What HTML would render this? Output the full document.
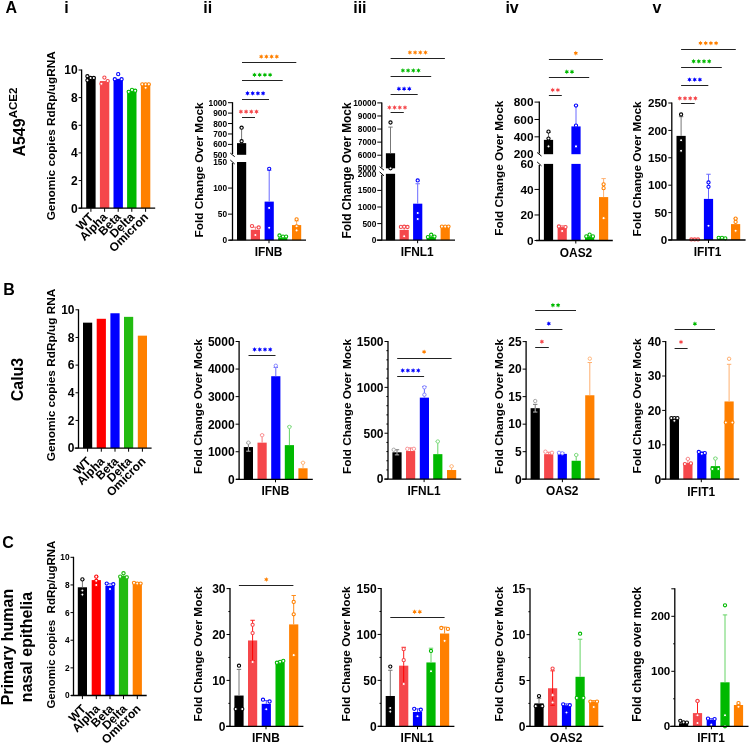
<!DOCTYPE html>
<html><head><meta charset="utf-8"><style>
html,body{margin:0;padding:0;background:#fff;overflow:hidden;}
svg{display:block;font-family:"Liberation Sans", sans-serif;will-change:transform;}
</style></head><body>
<svg width="750" height="744" viewBox="0 0 750 744">
<rect x="0" y="0" width="750" height="744" fill="#fff"/>
<rect x="86.2" y="76.91" width="9.4" height="131.29" fill="#000000"/>
<circle cx="87.4" cy="76.22" r="1.6" fill="#fff" stroke="#000000" stroke-width="1.1"/>
<circle cx="87.4" cy="80.36" r="1.6" fill="#fff" stroke="#000000" stroke-width="1.1"/>
<circle cx="90.6" cy="78.02" r="1.6" fill="#fff" stroke="#000000" stroke-width="1.1"/>
<circle cx="93.8" cy="78.02" r="1.6" fill="#fff" stroke="#000000" stroke-width="1.1"/>
<rect x="99.9" y="81.06" width="9.4" height="127.14" fill="#f5474b"/>
<circle cx="104.4" cy="77.6" r="1.6" fill="#fff" stroke="#f5474b" stroke-width="1.1"/>
<circle cx="101.4" cy="83.82" r="1.6" fill="#fff" stroke="#f5474b" stroke-width="1.1"/>
<circle cx="107.7" cy="81.06" r="1.6" fill="#fff" stroke="#f5474b" stroke-width="1.1"/>
<rect x="113.5" y="78.84" width="9.4" height="129.36" fill="#0000ff"/>
<circle cx="118.2" cy="74.15" r="1.6" fill="#fff" stroke="#0000ff" stroke-width="1.1"/>
<circle cx="114.8" cy="79.26" r="1.6" fill="#fff" stroke="#0000ff" stroke-width="1.1"/>
<circle cx="121.6" cy="79.26" r="1.6" fill="#fff" stroke="#0000ff" stroke-width="1.1"/>
<rect x="127.1" y="90.18" width="9.4" height="118.02" fill="#00b900"/>
<circle cx="128.7" cy="91.84" r="1.6" fill="#fff" stroke="#00b900" stroke-width="1.1"/>
<circle cx="132" cy="89.9" r="1.6" fill="#fff" stroke="#00b900" stroke-width="1.1"/>
<circle cx="135.2" cy="90.73" r="1.6" fill="#fff" stroke="#00b900" stroke-width="1.1"/>
<rect x="140.9" y="83.96" width="9.4" height="124.24" fill="#ff8000"/>
<circle cx="142.3" cy="84.37" r="1.6" fill="#fff" stroke="#ff8000" stroke-width="1.1"/>
<circle cx="145.6" cy="87.69" r="1.6" fill="#fff" stroke="#ff8000" stroke-width="1.1"/>
<circle cx="145.6" cy="84.37" r="1.6" fill="#fff" stroke="#ff8000" stroke-width="1.1"/>
<circle cx="148.8" cy="84.37" r="1.6" fill="#fff" stroke="#ff8000" stroke-width="1.1"/>
<line x1="81.6" y1="69.5" x2="81.6" y2="208.2" stroke="#000" stroke-width="1.3"/>
<line x1="78.6" y1="208.2" x2="155.2" y2="208.2" stroke="#000" stroke-width="1.3"/>
<line x1="78.6" y1="208.2" x2="81.6" y2="208.2" stroke="#000" stroke-width="1"/>
<text x="77.6" y="212.52" font-size="12" text-anchor="end" font-weight="bold" fill="#000">0</text>
<line x1="78.6" y1="180.56" x2="81.6" y2="180.56" stroke="#000" stroke-width="1"/>
<text x="77.6" y="184.88" font-size="12" text-anchor="end" font-weight="bold" fill="#000">2</text>
<line x1="78.6" y1="152.92" x2="81.6" y2="152.92" stroke="#000" stroke-width="1"/>
<text x="77.6" y="157.24" font-size="12" text-anchor="end" font-weight="bold" fill="#000">4</text>
<line x1="78.6" y1="125.28" x2="81.6" y2="125.28" stroke="#000" stroke-width="1"/>
<text x="77.6" y="129.6" font-size="12" text-anchor="end" font-weight="bold" fill="#000">6</text>
<line x1="78.6" y1="97.64" x2="81.6" y2="97.64" stroke="#000" stroke-width="1"/>
<text x="77.6" y="101.96" font-size="12" text-anchor="end" font-weight="bold" fill="#000">8</text>
<line x1="78.6" y1="70" x2="81.6" y2="70" stroke="#000" stroke-width="1"/>
<text x="77.6" y="74.32" font-size="12" text-anchor="end" font-weight="bold" fill="#000">10</text>
<line x1="90.9" y1="208.2" x2="90.9" y2="211.8" stroke="#000" stroke-width="1"/>
<line x1="104.6" y1="208.2" x2="104.6" y2="211.8" stroke="#000" stroke-width="1"/>
<line x1="118.2" y1="208.2" x2="118.2" y2="211.8" stroke="#000" stroke-width="1"/>
<line x1="131.8" y1="208.2" x2="131.8" y2="211.8" stroke="#000" stroke-width="1"/>
<line x1="145.6" y1="208.2" x2="145.6" y2="211.8" stroke="#000" stroke-width="1"/>
<text x="54.6" y="135.8" font-size="11.8" text-anchor="middle" font-weight="bold" fill="#000" transform="rotate(-90 54.6 135.8)">Genomic copies RdRp/ugRNA</text>
<text x="94.3" y="217.8" font-size="12" text-anchor="end" font-weight="bold" fill="#000" transform="rotate(-45 94.3 217.8)">WT</text>
<text x="108" y="217.8" font-size="12" text-anchor="end" font-weight="bold" fill="#000" transform="rotate(-45 108 217.8)">Alpha</text>
<text x="121.6" y="217.8" font-size="12" text-anchor="end" font-weight="bold" fill="#000" transform="rotate(-45 121.6 217.8)">Beta</text>
<text x="135.2" y="217.8" font-size="12" text-anchor="end" font-weight="bold" fill="#000" transform="rotate(-45 135.2 217.8)">Delta</text>
<text x="149" y="217.8" font-size="12" text-anchor="end" font-weight="bold" fill="#000" transform="rotate(-45 149 217.8)">Omicron</text>
<rect x="237" y="162" width="9.2" height="78.2" fill="#000000"/>
<rect x="237" y="143.13" width="9.2" height="11.67" fill="#000000"/>
<line x1="241.6" y1="143.13" x2="241.6" y2="127.71" stroke="#777777" stroke-width="1"/>
<line x1="239.4" y1="127.71" x2="243.8" y2="127.71" stroke="#777777" stroke-width="1"/>
<circle cx="241.6" cy="127.71" r="1.6" fill="#fff" stroke="#000000" stroke-width="1.1"/>
<circle cx="241.6" cy="141.25" r="1.6" fill="#fff" stroke="#000000" stroke-width="1.1"/>
<rect x="250.8" y="229.77" width="9.2" height="10.43" fill="#f5474b"/>
<line x1="255.4" y1="229.77" x2="255.4" y2="227.17" stroke="#f77a7d" stroke-width="1"/>
<line x1="253.2" y1="227.17" x2="257.6" y2="227.17" stroke="#f77a7d" stroke-width="1"/>
<circle cx="252" cy="226.12" r="1.6" fill="#fff" stroke="#f5474b" stroke-width="1.1"/>
<circle cx="258.7" cy="227.43" r="1.6" fill="#fff" stroke="#f5474b" stroke-width="1.1"/>
<circle cx="255.4" cy="234.99" r="1.6" fill="#fff" stroke="#f5474b" stroke-width="1.1"/>
<rect x="264.6" y="201.62" width="9.2" height="38.58" fill="#0000ff"/>
<line x1="269.2" y1="201.62" x2="269.2" y2="170.34" stroke="#6a6aff" stroke-width="1"/>
<line x1="267" y1="170.34" x2="271.4" y2="170.34" stroke="#6a6aff" stroke-width="1"/>
<circle cx="269.2" cy="168.78" r="1.6" fill="#fff" stroke="#0000ff" stroke-width="1.1"/>
<circle cx="269.2" cy="207.88" r="1.6" fill="#fff" stroke="#0000ff" stroke-width="1.1"/>
<circle cx="269.2" cy="227.69" r="1.6" fill="#fff" stroke="#0000ff" stroke-width="1.1"/>
<rect x="278.1" y="237.59" width="9.2" height="2.61" fill="#00b900"/>
<line x1="282.7" y1="237.59" x2="282.7" y2="236.03" stroke="#66d466" stroke-width="1"/>
<line x1="280.5" y1="236.03" x2="284.9" y2="236.03" stroke="#66d466" stroke-width="1"/>
<circle cx="279.5" cy="235.51" r="1.6" fill="#fff" stroke="#00b900" stroke-width="1.1"/>
<circle cx="283" cy="236.55" r="1.6" fill="#fff" stroke="#00b900" stroke-width="1.1"/>
<circle cx="286.1" cy="236.55" r="1.6" fill="#fff" stroke="#00b900" stroke-width="1.1"/>
<rect x="292" y="225.08" width="9.2" height="15.12" fill="#ff8000"/>
<line x1="296.6" y1="225.08" x2="296.6" y2="220.91" stroke="#ffb070" stroke-width="1"/>
<line x1="294.4" y1="220.91" x2="298.8" y2="220.91" stroke="#ffb070" stroke-width="1"/>
<circle cx="296.6" cy="219.35" r="1.6" fill="#fff" stroke="#ff8000" stroke-width="1.1"/>
<circle cx="296.6" cy="226.28" r="1.6" fill="#fff" stroke="#ff8000" stroke-width="1.1"/>
<circle cx="296.6" cy="230.4" r="1.6" fill="#fff" stroke="#ff8000" stroke-width="1.1"/>
<line x1="232.5" y1="163" x2="232.5" y2="240.2" stroke="#000" stroke-width="1.3"/>
<line x1="232.5" y1="102.2" x2="232.5" y2="154" stroke="#000" stroke-width="1.3"/>
<line x1="230.3" y1="153.1" x2="234.7" y2="156.7" stroke="#000" stroke-width="1"/>
<line x1="230.3" y1="160" x2="234.7" y2="164" stroke="#000" stroke-width="1"/>
<line x1="229.3" y1="240.2" x2="306" y2="240.2" stroke="#000" stroke-width="1.3"/>
<line x1="228" y1="240.2" x2="232.5" y2="240.2" stroke="#000" stroke-width="1"/>
<text x="227" y="243.19" font-size="8.3" text-anchor="end" font-weight="bold" fill="#000">0</text>
<line x1="228" y1="214.13" x2="232.5" y2="214.13" stroke="#000" stroke-width="1"/>
<text x="227" y="217.12" font-size="8.3" text-anchor="end" font-weight="bold" fill="#000">50</text>
<line x1="228" y1="188.07" x2="232.5" y2="188.07" stroke="#000" stroke-width="1"/>
<text x="227" y="191.05" font-size="8.3" text-anchor="end" font-weight="bold" fill="#000">100</text>
<text x="227" y="164.99" font-size="8.3" text-anchor="end" font-weight="bold" fill="#000">150</text>
<text x="227" y="157.79" font-size="8.3" text-anchor="end" font-weight="bold" fill="#000">500</text>
<line x1="228" y1="144.38" x2="232.5" y2="144.38" stroke="#000" stroke-width="1"/>
<text x="227" y="147.37" font-size="8.3" text-anchor="end" font-weight="bold" fill="#000">600</text>
<line x1="228" y1="133.96" x2="232.5" y2="133.96" stroke="#000" stroke-width="1"/>
<text x="227" y="136.95" font-size="8.3" text-anchor="end" font-weight="bold" fill="#000">700</text>
<line x1="228" y1="123.54" x2="232.5" y2="123.54" stroke="#000" stroke-width="1"/>
<text x="227" y="126.53" font-size="8.3" text-anchor="end" font-weight="bold" fill="#000">800</text>
<line x1="228" y1="113.12" x2="232.5" y2="113.12" stroke="#000" stroke-width="1"/>
<text x="227" y="116.11" font-size="8.3" text-anchor="end" font-weight="bold" fill="#000">900</text>
<line x1="228" y1="102.7" x2="232.5" y2="102.7" stroke="#000" stroke-width="1"/>
<text x="227" y="105.69" font-size="8.3" text-anchor="end" font-weight="bold" fill="#000">1000</text>
<line x1="269" y1="240.2" x2="269" y2="243.2" stroke="#000" stroke-width="1"/>
<line x1="242" y1="117.5" x2="255" y2="117.5" stroke="#222" stroke-width="1"/>
<polygon points="240.9,109.25 241.52,110.62 243.02,110.48 242.15,111.7 243.02,112.92 241.52,112.78 240.9,114.15 240.27,112.78 238.78,112.92 239.65,111.7 238.78,110.48 240.27,110.62" fill="#f5474b"/>
<polygon points="246.1,109.25 246.72,110.62 248.22,110.48 247.35,111.7 248.22,112.92 246.72,112.78 246.1,114.15 245.47,112.78 243.98,112.92 244.85,111.7 243.98,110.48 245.47,110.62" fill="#f5474b"/>
<polygon points="251.3,109.25 251.92,110.62 253.42,110.48 252.55,111.7 253.42,112.92 251.92,112.78 251.3,114.15 250.67,112.78 249.18,112.92 250.05,111.7 249.18,110.48 250.67,110.62" fill="#f5474b"/>
<polygon points="256.5,109.25 257.12,110.62 258.62,110.48 257.75,111.7 258.62,112.92 257.12,112.78 256.5,114.15 255.88,112.78 254.38,112.92 255.25,111.7 254.38,110.48 255.88,110.62" fill="#f5474b"/>
<line x1="242" y1="99.5" x2="269" y2="99.5" stroke="#222" stroke-width="1"/>
<polygon points="247.5,90.85 248.12,92.22 249.62,92.08 248.75,93.3 249.62,94.52 248.12,94.38 247.5,95.75 246.88,94.38 245.38,94.52 246.25,93.3 245.38,92.08 246.88,92.22" fill="#0000ff"/>
<polygon points="252.7,90.85 253.33,92.22 254.82,92.08 253.95,93.3 254.82,94.52 253.33,94.38 252.7,95.75 252.08,94.38 250.58,94.52 251.45,93.3 250.58,92.08 252.08,92.22" fill="#0000ff"/>
<polygon points="257.9,90.85 258.53,92.22 260.02,92.08 259.15,93.3 260.02,94.52 258.53,94.38 257.9,95.75 257.28,94.38 255.78,94.52 256.65,93.3 255.78,92.08 257.28,92.22" fill="#0000ff"/>
<polygon points="263.1,90.85 263.73,92.22 265.22,92.08 264.35,93.3 265.22,94.52 263.73,94.38 263.1,95.75 262.48,94.38 260.98,94.52 261.85,93.3 260.98,92.08 262.48,92.22" fill="#0000ff"/>
<line x1="242" y1="80.5" x2="282.7" y2="80.5" stroke="#222" stroke-width="1"/>
<polygon points="254.5,72.45 255.12,73.82 256.62,73.68 255.75,74.9 256.62,76.12 255.12,75.98 254.5,77.35 253.88,75.98 252.38,76.12 253.25,74.9 252.38,73.68 253.88,73.82" fill="#00b900"/>
<polygon points="259.7,72.45 260.32,73.82 261.82,73.68 260.95,74.9 261.82,76.12 260.32,75.98 259.7,77.35 259.07,75.98 257.58,76.12 258.45,74.9 257.58,73.68 259.07,73.82" fill="#00b900"/>
<polygon points="264.9,72.45 265.53,73.82 267.02,73.68 266.15,74.9 267.02,76.12 265.53,75.98 264.9,77.35 264.28,75.98 262.78,76.12 263.65,74.9 262.78,73.68 264.28,73.82" fill="#00b900"/>
<polygon points="270.1,72.45 270.73,73.82 272.22,73.68 271.35,74.9 272.22,76.12 270.73,75.98 270.1,77.35 269.48,75.98 267.98,76.12 268.85,74.9 267.98,73.68 269.48,73.82" fill="#00b900"/>
<line x1="242" y1="62.5" x2="296.3" y2="62.5" stroke="#222" stroke-width="1"/>
<polygon points="261.2,54.15 261.82,55.52 263.32,55.38 262.45,56.6 263.32,57.83 261.82,57.68 261.2,59.05 260.57,57.68 259.08,57.83 259.95,56.6 259.08,55.38 260.57,55.52" fill="#ff8000"/>
<polygon points="266.4,54.15 267.02,55.52 268.52,55.38 267.65,56.6 268.52,57.83 267.02,57.68 266.4,59.05 265.77,57.68 264.28,57.83 265.15,56.6 264.28,55.38 265.77,55.52" fill="#ff8000"/>
<polygon points="271.6,54.15 272.23,55.52 273.72,55.38 272.85,56.6 273.72,57.83 272.23,57.68 271.6,59.05 270.98,57.68 269.48,57.83 270.35,56.6 269.48,55.38 270.98,55.52" fill="#ff8000"/>
<polygon points="276.8,54.15 277.43,55.52 278.92,55.38 278.05,56.6 278.92,57.83 277.43,57.68 276.8,59.05 276.18,57.68 274.68,57.83 275.55,56.6 274.68,55.38 276.18,55.52" fill="#ff8000"/>
<text x="202.7" y="170" font-size="11.8" text-anchor="middle" font-weight="bold" fill="#000" transform="rotate(-90 202.7 170)">Fold Change Over Mock</text>
<text x="268.5" y="255.9" font-size="11.9" text-anchor="middle" font-weight="bold" fill="#000">IFNB</text>
<rect x="385.9" y="173.8" width="9.2" height="66.4" fill="#000000"/>
<rect x="385.9" y="153.26" width="9.2" height="15.04" fill="#000000"/>
<line x1="390.5" y1="153.26" x2="390.5" y2="127.1" stroke="#777777" stroke-width="1"/>
<line x1="388.3" y1="127.1" x2="392.7" y2="127.1" stroke="#777777" stroke-width="1"/>
<circle cx="390.5" cy="122.52" r="1.6" fill="#fff" stroke="#000000" stroke-width="1.1"/>
<circle cx="390.5" cy="168.3" r="1.6" fill="#fff" stroke="#000000" stroke-width="1.1"/>
<rect x="399.6" y="229.91" width="9.2" height="10.29" fill="#f5474b"/>
<line x1="404.2" y1="229.91" x2="404.2" y2="226.26" stroke="#f77a7d" stroke-width="1"/>
<line x1="402" y1="226.26" x2="406.4" y2="226.26" stroke="#f77a7d" stroke-width="1"/>
<circle cx="400.9" cy="226.92" r="1.6" fill="#fff" stroke="#f5474b" stroke-width="1.1"/>
<circle cx="404.2" cy="226.75" r="1.6" fill="#fff" stroke="#f5474b" stroke-width="1.1"/>
<circle cx="407.5" cy="226.99" r="1.6" fill="#fff" stroke="#f5474b" stroke-width="1.1"/>
<circle cx="404.2" cy="236.22" r="1.6" fill="#fff" stroke="#f5474b" stroke-width="1.1"/>
<rect x="413.1" y="203.68" width="9.2" height="36.52" fill="#0000ff"/>
<line x1="417.7" y1="203.68" x2="417.7" y2="183.76" stroke="#6a6aff" stroke-width="1"/>
<line x1="415.5" y1="183.76" x2="419.9" y2="183.76" stroke="#6a6aff" stroke-width="1"/>
<circle cx="417.7" cy="180.44" r="1.6" fill="#fff" stroke="#0000ff" stroke-width="1.1"/>
<circle cx="417.7" cy="212.98" r="1.6" fill="#fff" stroke="#0000ff" stroke-width="1.1"/>
<circle cx="417.7" cy="218.95" r="1.6" fill="#fff" stroke="#0000ff" stroke-width="1.1"/>
<rect x="426.6" y="236.88" width="9.2" height="3.32" fill="#00b900"/>
<line x1="431.2" y1="236.88" x2="431.2" y2="234.89" stroke="#66d466" stroke-width="1"/>
<line x1="429" y1="234.89" x2="433.4" y2="234.89" stroke="#66d466" stroke-width="1"/>
<circle cx="427.9" cy="237.05" r="1.6" fill="#fff" stroke="#00b900" stroke-width="1.1"/>
<circle cx="431.2" cy="234.72" r="1.6" fill="#fff" stroke="#00b900" stroke-width="1.1"/>
<circle cx="434.5" cy="236.55" r="1.6" fill="#fff" stroke="#00b900" stroke-width="1.1"/>
<rect x="440.6" y="226.59" width="9.2" height="13.61" fill="#ff8000"/>
<line x1="445.2" y1="226.59" x2="445.2" y2="225.92" stroke="#ffb070" stroke-width="1"/>
<line x1="443" y1="225.92" x2="447.4" y2="225.92" stroke="#ffb070" stroke-width="1"/>
<circle cx="441.9" cy="226.59" r="1.6" fill="#fff" stroke="#ff8000" stroke-width="1.1"/>
<circle cx="445.2" cy="226.59" r="1.6" fill="#fff" stroke="#ff8000" stroke-width="1.1"/>
<circle cx="448.5" cy="226.59" r="1.6" fill="#fff" stroke="#ff8000" stroke-width="1.1"/>
<line x1="381.8" y1="174.8" x2="381.8" y2="240.2" stroke="#000" stroke-width="1.3"/>
<line x1="381.8" y1="102.4" x2="381.8" y2="167.5" stroke="#000" stroke-width="1.3"/>
<line x1="379.6" y1="166.6" x2="384" y2="170.2" stroke="#000" stroke-width="1"/>
<line x1="379.6" y1="171.8" x2="384" y2="175.8" stroke="#000" stroke-width="1"/>
<line x1="376.8" y1="240.2" x2="455" y2="240.2" stroke="#000" stroke-width="1.3"/>
<line x1="377.3" y1="240.2" x2="381.8" y2="240.2" stroke="#000" stroke-width="1"/>
<text x="376.3" y="243.19" font-size="8.3" text-anchor="end" font-weight="bold" fill="#000">0</text>
<line x1="377.3" y1="223.6" x2="381.8" y2="223.6" stroke="#000" stroke-width="1"/>
<text x="376.3" y="226.59" font-size="8.3" text-anchor="end" font-weight="bold" fill="#000">500</text>
<line x1="377.3" y1="207" x2="381.8" y2="207" stroke="#000" stroke-width="1"/>
<text x="376.3" y="209.99" font-size="8.3" text-anchor="end" font-weight="bold" fill="#000">1000</text>
<line x1="377.3" y1="190.4" x2="381.8" y2="190.4" stroke="#000" stroke-width="1"/>
<text x="376.3" y="193.39" font-size="8.3" text-anchor="end" font-weight="bold" fill="#000">1500</text>
<text x="376.3" y="176.79" font-size="8.3" text-anchor="end" font-weight="bold" fill="#000">2000</text>
<text x="376.3" y="171.29" font-size="8.3" text-anchor="end" font-weight="bold" fill="#000">5000</text>
<line x1="377.3" y1="155.22" x2="381.8" y2="155.22" stroke="#000" stroke-width="1"/>
<text x="376.3" y="158.21" font-size="8.3" text-anchor="end" font-weight="bold" fill="#000">6000</text>
<line x1="377.3" y1="142.14" x2="381.8" y2="142.14" stroke="#000" stroke-width="1"/>
<text x="376.3" y="145.13" font-size="8.3" text-anchor="end" font-weight="bold" fill="#000">7000</text>
<line x1="377.3" y1="129.06" x2="381.8" y2="129.06" stroke="#000" stroke-width="1"/>
<text x="376.3" y="132.05" font-size="8.3" text-anchor="end" font-weight="bold" fill="#000">8000</text>
<line x1="377.3" y1="115.98" x2="381.8" y2="115.98" stroke="#000" stroke-width="1"/>
<text x="376.3" y="118.97" font-size="8.3" text-anchor="end" font-weight="bold" fill="#000">9000</text>
<line x1="377.3" y1="102.9" x2="381.8" y2="102.9" stroke="#000" stroke-width="1"/>
<text x="376.3" y="105.89" font-size="8.3" text-anchor="end" font-weight="bold" fill="#000">10000</text>
<line x1="417.6" y1="240.2" x2="417.6" y2="243.2" stroke="#000" stroke-width="1"/>
<line x1="390.6" y1="112.5" x2="403.8" y2="112.5" stroke="#222" stroke-width="1"/>
<polygon points="389.4,105.05 390.02,106.42 391.52,106.28 390.65,107.5 391.52,108.72 390.02,108.58 389.4,109.95 388.77,108.58 387.28,108.72 388.15,107.5 387.28,106.28 388.77,106.42" fill="#f5474b"/>
<polygon points="394.6,105.05 395.22,106.42 396.72,106.28 395.85,107.5 396.72,108.72 395.22,108.58 394.6,109.95 393.97,108.58 392.48,108.72 393.35,107.5 392.48,106.28 393.97,106.42" fill="#f5474b"/>
<polygon points="399.8,105.05 400.43,106.42 401.92,106.28 401.05,107.5 401.92,108.72 400.43,108.58 399.8,109.95 399.18,108.58 397.68,108.72 398.55,107.5 397.68,106.28 399.18,106.42" fill="#f5474b"/>
<polygon points="405,105.05 405.62,106.42 407.12,106.28 406.25,107.5 407.12,108.72 405.62,108.58 405,109.95 404.38,108.58 402.88,108.72 403.75,107.5 402.88,106.28 404.38,106.42" fill="#f5474b"/>
<line x1="390.6" y1="94.5" x2="417.7" y2="94.5" stroke="#222" stroke-width="1"/>
<polygon points="398.9,86.35 399.53,87.72 401.02,87.58 400.15,88.8 401.02,90.02 399.53,89.88 398.9,91.25 398.28,89.88 396.78,90.02 397.65,88.8 396.78,87.58 398.28,87.72" fill="#0000ff"/>
<polygon points="404.1,86.35 404.73,87.72 406.22,87.58 405.35,88.8 406.22,90.02 404.73,89.88 404.1,91.25 403.48,89.88 401.98,90.02 402.85,88.8 401.98,87.58 403.48,87.72" fill="#0000ff"/>
<polygon points="409.3,86.35 409.93,87.72 411.42,87.58 410.55,88.8 411.42,90.02 409.93,89.88 409.3,91.25 408.68,89.88 407.18,90.02 408.05,88.8 407.18,87.58 408.68,87.72" fill="#0000ff"/>
<line x1="390.6" y1="76.5" x2="431.2" y2="76.5" stroke="#222" stroke-width="1"/>
<polygon points="402.9,68.05 403.52,69.42 405.02,69.28 404.15,70.5 405.02,71.72 403.52,71.58 402.9,72.95 402.27,71.58 400.78,71.72 401.65,70.5 400.78,69.28 402.27,69.42" fill="#00b900"/>
<polygon points="408.1,68.05 408.72,69.42 410.22,69.28 409.35,70.5 410.22,71.72 408.72,71.58 408.1,72.95 407.47,71.58 405.98,71.72 406.85,70.5 405.98,69.28 407.47,69.42" fill="#00b900"/>
<polygon points="413.3,68.05 413.93,69.42 415.42,69.28 414.55,70.5 415.42,71.72 413.93,71.58 413.3,72.95 412.68,71.58 411.18,71.72 412.05,70.5 411.18,69.28 412.68,69.42" fill="#00b900"/>
<polygon points="418.5,68.05 419.12,69.42 420.62,69.28 419.75,70.5 420.62,71.72 419.12,71.58 418.5,72.95 417.88,71.58 416.38,71.72 417.25,70.5 416.38,69.28 417.88,69.42" fill="#00b900"/>
<line x1="390.6" y1="58.5" x2="444.9" y2="58.5" stroke="#222" stroke-width="1"/>
<polygon points="409.9,50.05 410.52,51.42 412.02,51.27 411.15,52.5 412.02,53.73 410.52,53.58 409.9,54.95 409.27,53.58 407.78,53.73 408.65,52.5 407.78,51.27 409.27,51.42" fill="#ff8000"/>
<polygon points="415.1,50.05 415.72,51.42 417.22,51.27 416.35,52.5 417.22,53.73 415.72,53.58 415.1,54.95 414.47,53.58 412.98,53.73 413.85,52.5 412.98,51.27 414.47,51.42" fill="#ff8000"/>
<polygon points="420.3,50.05 420.93,51.42 422.42,51.27 421.55,52.5 422.42,53.73 420.93,53.58 420.3,54.95 419.68,53.58 418.18,53.73 419.05,52.5 418.18,51.27 419.68,51.42" fill="#ff8000"/>
<polygon points="425.5,50.05 426.12,51.42 427.62,51.27 426.75,52.5 427.62,53.73 426.12,53.58 425.5,54.95 424.88,53.58 423.38,53.73 424.25,52.5 423.38,51.27 424.88,51.42" fill="#ff8000"/>
<text x="351" y="170.5" font-size="11.9" text-anchor="middle" font-weight="bold" fill="#000" transform="rotate(-90 351 170.5)">Fold Change Over Mock</text>
<text x="417.2" y="256.2" font-size="11.9" text-anchor="middle" font-weight="bold" fill="#000">IFNL1</text>
<rect x="543.9" y="163.9" width="9.2" height="76.6" fill="#000000"/>
<rect x="543.9" y="139.87" width="9.2" height="14.33" fill="#000000"/>
<line x1="548.5" y1="139.87" x2="548.5" y2="132.49" stroke="#777777" stroke-width="1"/>
<line x1="546.3" y1="132.49" x2="550.7" y2="132.49" stroke="#777777" stroke-width="1"/>
<circle cx="548.5" cy="131.62" r="1.6" fill="#fff" stroke="#000000" stroke-width="1.1"/>
<circle cx="548.5" cy="138.57" r="1.6" fill="#fff" stroke="#000000" stroke-width="1.1"/>
<circle cx="548.5" cy="146.38" r="1.6" fill="#fff" stroke="#000000" stroke-width="1.1"/>
<rect x="557.6" y="227.09" width="9.2" height="13.41" fill="#f5474b"/>
<line x1="562.2" y1="227.09" x2="562.2" y2="225.82" stroke="#f77a7d" stroke-width="1"/>
<line x1="560" y1="225.82" x2="564.4" y2="225.82" stroke="#f77a7d" stroke-width="1"/>
<circle cx="558.9" cy="226.46" r="1.6" fill="#fff" stroke="#f5474b" stroke-width="1.1"/>
<circle cx="565.5" cy="227.09" r="1.6" fill="#fff" stroke="#f5474b" stroke-width="1.1"/>
<circle cx="562.2" cy="230.93" r="1.6" fill="#fff" stroke="#f5474b" stroke-width="1.1"/>
<rect x="571.4" y="163.9" width="9.2" height="76.6" fill="#0000ff"/>
<rect x="571.4" y="126.41" width="9.2" height="27.79" fill="#0000ff"/>
<line x1="576" y1="126.41" x2="576" y2="105.57" stroke="#6a6aff" stroke-width="1"/>
<line x1="573.8" y1="105.57" x2="578.2" y2="105.57" stroke="#6a6aff" stroke-width="1"/>
<circle cx="576" cy="105.57" r="1.6" fill="#fff" stroke="#0000ff" stroke-width="1.1"/>
<circle cx="576" cy="125.54" r="1.6" fill="#fff" stroke="#0000ff" stroke-width="1.1"/>
<circle cx="576" cy="146.38" r="1.6" fill="#fff" stroke="#0000ff" stroke-width="1.1"/>
<rect x="585" y="236.67" width="9.2" height="3.83" fill="#00b900"/>
<line x1="589.6" y1="236.67" x2="589.6" y2="235.39" stroke="#66d466" stroke-width="1"/>
<line x1="587.4" y1="235.39" x2="591.8" y2="235.39" stroke="#66d466" stroke-width="1"/>
<circle cx="586.3" cy="236.41" r="1.6" fill="#fff" stroke="#00b900" stroke-width="1.1"/>
<circle cx="589.6" cy="234.63" r="1.6" fill="#fff" stroke="#00b900" stroke-width="1.1"/>
<circle cx="592.9" cy="236.41" r="1.6" fill="#fff" stroke="#00b900" stroke-width="1.1"/>
<rect x="599" y="197.09" width="9.2" height="43.41" fill="#ff8000"/>
<line x1="603.6" y1="197.09" x2="603.6" y2="178.58" stroke="#ffb070" stroke-width="1"/>
<line x1="601.4" y1="178.58" x2="605.8" y2="178.58" stroke="#ffb070" stroke-width="1"/>
<circle cx="603.6" cy="184.33" r="1.6" fill="#fff" stroke="#ff8000" stroke-width="1.1"/>
<circle cx="603.6" cy="188.16" r="1.6" fill="#fff" stroke="#ff8000" stroke-width="1.1"/>
<circle cx="603.6" cy="218.16" r="1.6" fill="#fff" stroke="#ff8000" stroke-width="1.1"/>
<line x1="539.3" y1="164.9" x2="539.3" y2="240.5" stroke="#000" stroke-width="1.3"/>
<line x1="539.3" y1="101.6" x2="539.3" y2="153.4" stroke="#000" stroke-width="1.3"/>
<line x1="537.1" y1="152.5" x2="541.5" y2="156.1" stroke="#000" stroke-width="1"/>
<line x1="537.1" y1="161.9" x2="541.5" y2="165.9" stroke="#000" stroke-width="1"/>
<line x1="536" y1="240.5" x2="612.8" y2="240.5" stroke="#000" stroke-width="1.3"/>
<line x1="534.5" y1="240.5" x2="539.3" y2="240.5" stroke="#000" stroke-width="1"/>
<text x="533.5" y="244.75" font-size="11.8" text-anchor="end" font-weight="bold" fill="#000">0</text>
<line x1="534.5" y1="214.97" x2="539.3" y2="214.97" stroke="#000" stroke-width="1"/>
<text x="533.5" y="219.21" font-size="11.8" text-anchor="end" font-weight="bold" fill="#000">20</text>
<line x1="534.5" y1="189.43" x2="539.3" y2="189.43" stroke="#000" stroke-width="1"/>
<text x="533.5" y="193.68" font-size="11.8" text-anchor="end" font-weight="bold" fill="#000">40</text>
<text x="533.5" y="168.15" font-size="11.8" text-anchor="end" font-weight="bold" fill="#000">60</text>
<text x="533.5" y="158.45" font-size="11.8" text-anchor="end" font-weight="bold" fill="#000">200</text>
<line x1="534.5" y1="136.83" x2="539.3" y2="136.83" stroke="#000" stroke-width="1"/>
<text x="533.5" y="141.08" font-size="11.8" text-anchor="end" font-weight="bold" fill="#000">400</text>
<line x1="534.5" y1="119.47" x2="539.3" y2="119.47" stroke="#000" stroke-width="1"/>
<text x="533.5" y="123.71" font-size="11.8" text-anchor="end" font-weight="bold" fill="#000">600</text>
<line x1="534.5" y1="102.1" x2="539.3" y2="102.1" stroke="#000" stroke-width="1"/>
<text x="533.5" y="106.35" font-size="11.8" text-anchor="end" font-weight="bold" fill="#000">800</text>
<line x1="575.8" y1="240.5" x2="575.8" y2="243.5" stroke="#000" stroke-width="1"/>
<line x1="548.9" y1="95.5" x2="561.8" y2="95.5" stroke="#222" stroke-width="1"/>
<polygon points="552.7,87.55 553.32,88.92 554.82,88.78 553.95,90 554.82,91.22 553.32,91.08 552.7,92.45 552.07,91.08 550.58,91.22 551.45,90 550.58,88.78 552.07,88.92" fill="#f5474b"/>
<polygon points="557.9,87.55 558.52,88.92 560.02,88.78 559.15,90 560.02,91.22 558.52,91.08 557.9,92.45 557.27,91.08 555.78,91.22 556.65,90 555.78,88.78 557.27,88.92" fill="#f5474b"/>
<line x1="548.9" y1="77.5" x2="589.2" y2="77.5" stroke="#222" stroke-width="1"/>
<polygon points="566.8,69.35 567.42,70.72 568.92,70.58 568.05,71.8 568.92,73.02 567.42,72.88 566.8,74.25 566.17,72.88 564.68,73.02 565.55,71.8 564.68,70.58 566.17,70.72" fill="#00b900"/>
<polygon points="572,69.35 572.62,70.72 574.12,70.58 573.25,71.8 574.12,73.02 572.62,72.88 572,74.25 571.38,72.88 569.88,73.02 570.75,71.8 569.88,70.58 571.38,70.72" fill="#00b900"/>
<line x1="548.9" y1="59.5" x2="602.9" y2="59.5" stroke="#222" stroke-width="1"/>
<polygon points="575.8,50.75 576.42,52.12 577.92,51.98 577.05,53.2 577.92,54.43 576.42,54.28 575.8,55.65 575.17,54.28 573.68,54.43 574.55,53.2 573.68,51.98 575.17,52.12" fill="#ff8000"/>
<text x="503.2" y="168.2" font-size="11.8" text-anchor="middle" font-weight="bold" fill="#000" transform="rotate(-90 503.2 168.2)">Fold Change Over Mock</text>
<text x="576" y="256.5" font-size="11.9" text-anchor="middle" font-weight="bold" fill="#000">OAS2</text>
<rect x="676.5" y="135.88" width="9.2" height="104.12" fill="#000000"/>
<line x1="681.1" y1="135.88" x2="681.1" y2="116.7" stroke="#777777" stroke-width="1"/>
<line x1="678.9" y1="116.7" x2="683.3" y2="116.7" stroke="#777777" stroke-width="1"/>
<circle cx="681.1" cy="114.51" r="1.6" fill="#fff" stroke="#000000" stroke-width="1.1"/>
<circle cx="681.1" cy="140.26" r="1.6" fill="#fff" stroke="#000000" stroke-width="1.1"/>
<circle cx="681.1" cy="150.68" r="1.6" fill="#fff" stroke="#000000" stroke-width="1.1"/>
<rect x="690.1" y="239.45" width="9.2" height="0.55" fill="#f5474b"/>
<circle cx="691.4" cy="239.45" r="1.6" fill="#fff" stroke="#f5474b" stroke-width="1.1"/>
<circle cx="694.7" cy="239.45" r="1.6" fill="#fff" stroke="#f5474b" stroke-width="1.1"/>
<circle cx="698" cy="239.45" r="1.6" fill="#fff" stroke="#f5474b" stroke-width="1.1"/>
<rect x="703.9" y="198.9" width="9.2" height="41.1" fill="#0000ff"/>
<line x1="708.5" y1="198.9" x2="708.5" y2="174.24" stroke="#6a6aff" stroke-width="1"/>
<line x1="706.3" y1="174.24" x2="710.7" y2="174.24" stroke="#6a6aff" stroke-width="1"/>
<circle cx="708.5" cy="182.46" r="1.6" fill="#fff" stroke="#0000ff" stroke-width="1.1"/>
<circle cx="708.5" cy="186.84" r="1.6" fill="#fff" stroke="#0000ff" stroke-width="1.1"/>
<circle cx="708.5" cy="225.75" r="1.6" fill="#fff" stroke="#0000ff" stroke-width="1.1"/>
<rect x="717.4" y="238.63" width="9.2" height="1.37" fill="#00b900"/>
<line x1="722" y1="238.63" x2="722" y2="237.81" stroke="#66d466" stroke-width="1"/>
<line x1="719.8" y1="237.81" x2="724.2" y2="237.81" stroke="#66d466" stroke-width="1"/>
<circle cx="718.7" cy="237.81" r="1.6" fill="#fff" stroke="#00b900" stroke-width="1.1"/>
<circle cx="722" cy="237.81" r="1.6" fill="#fff" stroke="#00b900" stroke-width="1.1"/>
<circle cx="725.3" cy="238.36" r="1.6" fill="#fff" stroke="#00b900" stroke-width="1.1"/>
<rect x="731" y="224.11" width="9.2" height="15.89" fill="#ff8000"/>
<line x1="735.6" y1="224.11" x2="735.6" y2="218.63" stroke="#ffb070" stroke-width="1"/>
<line x1="733.4" y1="218.63" x2="737.8" y2="218.63" stroke="#ffb070" stroke-width="1"/>
<circle cx="735.6" cy="218.63" r="1.6" fill="#fff" stroke="#ff8000" stroke-width="1.1"/>
<circle cx="735.6" cy="221.92" r="1.6" fill="#fff" stroke="#ff8000" stroke-width="1.1"/>
<circle cx="735.6" cy="230.68" r="1.6" fill="#fff" stroke="#ff8000" stroke-width="1.1"/>
<line x1="671.8" y1="102.5" x2="671.8" y2="240" stroke="#000" stroke-width="1.3"/>
<line x1="668.2" y1="240" x2="745.6" y2="240" stroke="#000" stroke-width="1.3"/>
<line x1="668.3" y1="240" x2="671.8" y2="240" stroke="#000" stroke-width="1"/>
<text x="667.3" y="244.18" font-size="11.6" text-anchor="end" font-weight="bold" fill="#000">0</text>
<line x1="668.3" y1="212.6" x2="671.8" y2="212.6" stroke="#000" stroke-width="1"/>
<text x="667.3" y="216.78" font-size="11.6" text-anchor="end" font-weight="bold" fill="#000">50</text>
<line x1="668.3" y1="185.2" x2="671.8" y2="185.2" stroke="#000" stroke-width="1"/>
<text x="667.3" y="189.38" font-size="11.6" text-anchor="end" font-weight="bold" fill="#000">100</text>
<line x1="668.3" y1="157.8" x2="671.8" y2="157.8" stroke="#000" stroke-width="1"/>
<text x="667.3" y="161.98" font-size="11.6" text-anchor="end" font-weight="bold" fill="#000">150</text>
<line x1="668.3" y1="130.4" x2="671.8" y2="130.4" stroke="#000" stroke-width="1"/>
<text x="667.3" y="134.58" font-size="11.6" text-anchor="end" font-weight="bold" fill="#000">200</text>
<line x1="668.3" y1="103" x2="671.8" y2="103" stroke="#000" stroke-width="1"/>
<text x="667.3" y="107.18" font-size="11.6" text-anchor="end" font-weight="bold" fill="#000">250</text>
<line x1="708.5" y1="240" x2="708.5" y2="243" stroke="#000" stroke-width="1"/>
<line x1="681.1" y1="103.5" x2="694.7" y2="103.5" stroke="#222" stroke-width="1"/>
<polygon points="679.8,95.85 680.43,97.22 681.92,97.08 681.05,98.3 681.92,99.52 680.43,99.38 679.8,100.75 679.18,99.38 677.68,99.52 678.55,98.3 677.68,97.08 679.18,97.22" fill="#f5474b"/>
<polygon points="685,95.85 685.62,97.22 687.12,97.08 686.25,98.3 687.12,99.52 685.62,99.38 685,100.75 684.38,99.38 682.88,99.52 683.75,98.3 682.88,97.08 684.38,97.22" fill="#f5474b"/>
<polygon points="690.2,95.85 690.83,97.22 692.32,97.08 691.45,98.3 692.32,99.52 690.83,99.38 690.2,100.75 689.58,99.38 688.08,99.52 688.95,98.3 688.08,97.08 689.58,97.22" fill="#f5474b"/>
<polygon points="695.4,95.85 696.02,97.22 697.52,97.08 696.65,98.3 697.52,99.52 696.02,99.38 695.4,100.75 694.77,99.38 693.28,99.52 694.15,98.3 693.28,97.08 694.77,97.22" fill="#f5474b"/>
<line x1="681.1" y1="85.5" x2="708.3" y2="85.5" stroke="#222" stroke-width="1"/>
<polygon points="689.5,77.15 690.12,78.52 691.62,78.38 690.75,79.6 691.62,80.82 690.12,80.68 689.5,82.05 688.88,80.68 687.38,80.82 688.25,79.6 687.38,78.38 688.88,78.52" fill="#0000ff"/>
<polygon points="694.7,77.15 695.33,78.52 696.82,78.38 695.95,79.6 696.82,80.82 695.33,80.68 694.7,82.05 694.08,80.68 692.58,80.82 693.45,79.6 692.58,78.38 694.08,78.52" fill="#0000ff"/>
<polygon points="699.9,77.15 700.53,78.52 702.02,78.38 701.15,79.6 702.02,80.82 700.53,80.68 699.9,82.05 699.28,80.68 697.78,80.82 698.65,79.6 697.78,78.38 699.28,78.52" fill="#0000ff"/>
<line x1="681.1" y1="67.5" x2="721.8" y2="67.5" stroke="#222" stroke-width="1"/>
<polygon points="693.6,58.85 694.23,60.22 695.72,60.07 694.85,61.3 695.72,62.52 694.23,62.38 693.6,63.75 692.98,62.38 691.48,62.52 692.35,61.3 691.48,60.07 692.98,60.22" fill="#00b900"/>
<polygon points="698.8,58.85 699.42,60.22 700.92,60.07 700.05,61.3 700.92,62.52 699.42,62.38 698.8,63.75 698.17,62.38 696.68,62.52 697.55,61.3 696.68,60.07 698.17,60.22" fill="#00b900"/>
<polygon points="704,58.85 704.62,60.22 706.12,60.07 705.25,61.3 706.12,62.52 704.62,62.38 704,63.75 703.38,62.38 701.88,62.52 702.75,61.3 701.88,60.07 703.38,60.22" fill="#00b900"/>
<polygon points="709.2,58.85 709.82,60.22 711.32,60.07 710.45,61.3 711.32,62.52 709.82,62.38 709.2,63.75 708.57,62.38 707.08,62.52 707.95,61.3 707.08,60.07 708.57,60.22" fill="#00b900"/>
<line x1="681.1" y1="49.5" x2="735.8" y2="49.5" stroke="#222" stroke-width="1"/>
<polygon points="700.5,40.65 701.12,42.02 702.62,41.88 701.75,43.1 702.62,44.33 701.12,44.18 700.5,45.55 699.88,44.18 698.38,44.33 699.25,43.1 698.38,41.88 699.88,42.02" fill="#ff8000"/>
<polygon points="705.7,40.65 706.32,42.02 707.82,41.88 706.95,43.1 707.82,44.33 706.32,44.18 705.7,45.55 705.07,44.18 703.58,44.33 704.45,43.1 703.58,41.88 705.07,42.02" fill="#ff8000"/>
<polygon points="710.9,40.65 711.52,42.02 713.02,41.88 712.15,43.1 713.02,44.33 711.52,44.18 710.9,45.55 710.27,44.18 708.78,44.33 709.65,43.1 708.78,41.88 710.27,42.02" fill="#ff8000"/>
<polygon points="716.1,40.65 716.72,42.02 718.22,41.88 717.35,43.1 718.22,44.33 716.72,44.18 716.1,45.55 715.47,44.18 713.98,44.33 714.85,43.1 713.98,41.88 715.47,42.02" fill="#ff8000"/>
<text x="641.3" y="168.9" font-size="11.8" text-anchor="middle" font-weight="bold" fill="#000" transform="rotate(-90 641.3 168.9)">Fold Change Over Mock</text>
<text x="707.5" y="256.1" font-size="11.9" text-anchor="middle" font-weight="bold" fill="#000">IFIT1</text>
<rect x="83" y="322.66" width="9.2" height="125.44" fill="#000000"/>
<rect x="96.7" y="318.79" width="9.2" height="129.31" fill="#ff0000"/>
<rect x="110.4" y="313.26" width="9.2" height="134.84" fill="#0000ff"/>
<rect x="124" y="316.85" width="9.2" height="131.25" fill="#22bb11"/>
<rect x="137.8" y="335.66" width="9.2" height="112.44" fill="#ff8000"/>
<line x1="78.5" y1="309.3" x2="78.5" y2="448.1" stroke="#000" stroke-width="1.3"/>
<line x1="74.7" y1="448.1" x2="151.6" y2="448.1" stroke="#000" stroke-width="1.3"/>
<line x1="75.5" y1="448.1" x2="78.5" y2="448.1" stroke="#000" stroke-width="1"/>
<text x="74.5" y="452.42" font-size="12" text-anchor="end" font-weight="bold" fill="#000">0</text>
<line x1="75.5" y1="420.44" x2="78.5" y2="420.44" stroke="#000" stroke-width="1"/>
<text x="74.5" y="424.76" font-size="12" text-anchor="end" font-weight="bold" fill="#000">2</text>
<line x1="75.5" y1="392.78" x2="78.5" y2="392.78" stroke="#000" stroke-width="1"/>
<text x="74.5" y="397.1" font-size="12" text-anchor="end" font-weight="bold" fill="#000">4</text>
<line x1="75.5" y1="365.12" x2="78.5" y2="365.12" stroke="#000" stroke-width="1"/>
<text x="74.5" y="369.44" font-size="12" text-anchor="end" font-weight="bold" fill="#000">6</text>
<line x1="75.5" y1="337.46" x2="78.5" y2="337.46" stroke="#000" stroke-width="1"/>
<text x="74.5" y="341.78" font-size="12" text-anchor="end" font-weight="bold" fill="#000">8</text>
<line x1="75.5" y1="309.8" x2="78.5" y2="309.8" stroke="#000" stroke-width="1"/>
<text x="74.5" y="314.12" font-size="12" text-anchor="end" font-weight="bold" fill="#000">10</text>
<line x1="87.6" y1="448.1" x2="87.6" y2="451.7" stroke="#000" stroke-width="1"/>
<line x1="101.3" y1="448.1" x2="101.3" y2="451.7" stroke="#000" stroke-width="1"/>
<line x1="115" y1="448.1" x2="115" y2="451.7" stroke="#000" stroke-width="1"/>
<line x1="128.6" y1="448.1" x2="128.6" y2="451.7" stroke="#000" stroke-width="1"/>
<line x1="142.4" y1="448.1" x2="142.4" y2="451.7" stroke="#000" stroke-width="1"/>
<text x="54.8" y="375" font-size="11.8" text-anchor="middle" font-weight="bold" fill="#000" transform="rotate(-90 54.8 375)">Genomic copies RdRp/ug RNA</text>
<text x="91.6" y="462.1" font-size="12" text-anchor="end" font-weight="bold" fill="#000" transform="rotate(-45 91.6 462.1)">WT</text>
<text x="105.3" y="462.1" font-size="12" text-anchor="end" font-weight="bold" fill="#000" transform="rotate(-45 105.3 462.1)">Alpha</text>
<text x="119" y="462.1" font-size="12" text-anchor="end" font-weight="bold" fill="#000" transform="rotate(-45 119 462.1)">Beta</text>
<text x="132.6" y="462.1" font-size="12" text-anchor="end" font-weight="bold" fill="#000" transform="rotate(-45 132.6 462.1)">Delta</text>
<text x="146.4" y="462.1" font-size="12" text-anchor="end" font-weight="bold" fill="#000" transform="rotate(-45 146.4 462.1)">Omicron</text>
<rect x="243.8" y="447.05" width="9.2" height="32.25" fill="#000000"/>
<line x1="248.4" y1="447.05" x2="248.4" y2="442.92" stroke="#777777" stroke-width="1"/>
<line x1="246.2" y1="442.92" x2="250.6" y2="442.92" stroke="#777777" stroke-width="1"/>
<line x1="248.4" y1="447.05" x2="248.4" y2="451.19" stroke="#bbbbbb" stroke-width="1"/>
<line x1="246.2" y1="451.19" x2="250.6" y2="451.19" stroke="#bbbbbb" stroke-width="1"/>
<circle cx="248.4" cy="442.65" r="1.7" fill="#fff" stroke="#a0a0a0" stroke-width="0.9"/>
<rect x="257.5" y="442.65" width="9.2" height="36.65" fill="#f5474b"/>
<line x1="262.1" y1="442.65" x2="262.1" y2="434.93" stroke="#f77a7d" stroke-width="1"/>
<line x1="259.9" y1="434.93" x2="264.3" y2="434.93" stroke="#f77a7d" stroke-width="1"/>
<circle cx="262.1" cy="435.2" r="1.7" fill="#fff" stroke="#f88a8c" stroke-width="0.9"/>
<rect x="271.2" y="376.23" width="9.2" height="103.07" fill="#0000ff"/>
<line x1="275.8" y1="376.23" x2="275.8" y2="367.41" stroke="#6a6aff" stroke-width="1"/>
<line x1="273.6" y1="367.41" x2="278" y2="367.41" stroke="#6a6aff" stroke-width="1"/>
<circle cx="275.8" cy="365.75" r="1.7" fill="#fff" stroke="#7a7aff" stroke-width="0.9"/>
<rect x="284.8" y="445.13" width="9.2" height="34.17" fill="#00b900"/>
<line x1="289.4" y1="445.13" x2="289.4" y2="426.38" stroke="#66d466" stroke-width="1"/>
<line x1="287.2" y1="426.38" x2="291.6" y2="426.38" stroke="#66d466" stroke-width="1"/>
<circle cx="289.4" cy="426.94" r="1.7" fill="#fff" stroke="#77d877" stroke-width="0.9"/>
<rect x="298.4" y="468.28" width="9.2" height="11.02" fill="#ff8000"/>
<line x1="303" y1="468.28" x2="303" y2="462.49" stroke="#ffb070" stroke-width="1"/>
<line x1="300.8" y1="462.49" x2="305.2" y2="462.49" stroke="#ffb070" stroke-width="1"/>
<circle cx="303" cy="462.76" r="1.7" fill="#fff" stroke="#ffb070" stroke-width="0.9"/>
<line x1="239.1" y1="341" x2="239.1" y2="479.3" stroke="#000" stroke-width="1.3"/>
<line x1="236" y1="479.3" x2="312.8" y2="479.3" stroke="#000" stroke-width="1.3"/>
<line x1="235.6" y1="479.3" x2="239.1" y2="479.3" stroke="#000" stroke-width="1"/>
<text x="234.6" y="483.62" font-size="12" text-anchor="end" font-weight="bold" fill="#000">0</text>
<line x1="235.6" y1="451.74" x2="239.1" y2="451.74" stroke="#000" stroke-width="1"/>
<text x="234.6" y="456.06" font-size="12" text-anchor="end" font-weight="bold" fill="#000">1000</text>
<line x1="235.6" y1="424.18" x2="239.1" y2="424.18" stroke="#000" stroke-width="1"/>
<text x="234.6" y="428.5" font-size="12" text-anchor="end" font-weight="bold" fill="#000">2000</text>
<line x1="235.6" y1="396.62" x2="239.1" y2="396.62" stroke="#000" stroke-width="1"/>
<text x="234.6" y="400.94" font-size="12" text-anchor="end" font-weight="bold" fill="#000">3000</text>
<line x1="235.6" y1="369.06" x2="239.1" y2="369.06" stroke="#000" stroke-width="1"/>
<text x="234.6" y="373.38" font-size="12" text-anchor="end" font-weight="bold" fill="#000">4000</text>
<line x1="235.6" y1="341.5" x2="239.1" y2="341.5" stroke="#000" stroke-width="1"/>
<text x="234.6" y="345.82" font-size="12" text-anchor="end" font-weight="bold" fill="#000">5000</text>
<line x1="275.5" y1="479.3" x2="275.5" y2="482.3" stroke="#000" stroke-width="1"/>
<line x1="248.5" y1="355.5" x2="275.5" y2="355.5" stroke="#222" stroke-width="1"/>
<polygon points="254.6,347.05 255.22,348.42 256.72,348.27 255.85,349.5 256.72,350.73 255.22,350.58 254.6,351.95 253.97,350.58 252.48,350.73 253.35,349.5 252.48,348.27 253.97,348.42" fill="#0000ff"/>
<polygon points="259.8,347.05 260.42,348.42 261.92,348.27 261.05,349.5 261.92,350.73 260.42,350.58 259.8,351.95 259.17,350.58 257.68,350.73 258.55,349.5 257.68,348.27 259.17,348.42" fill="#0000ff"/>
<polygon points="265,347.05 265.62,348.42 267.12,348.27 266.25,349.5 267.12,350.73 265.62,350.58 265,351.95 264.38,350.58 262.88,350.73 263.75,349.5 262.88,348.27 264.38,348.42" fill="#0000ff"/>
<polygon points="270.2,347.05 270.82,348.42 272.32,348.27 271.45,349.5 272.32,350.73 270.82,350.58 270.2,351.95 269.57,350.58 268.08,350.73 268.95,349.5 268.08,348.27 269.57,348.42" fill="#0000ff"/>
<text x="202.5" y="406.4" font-size="11.8" text-anchor="middle" font-weight="bold" fill="#000" transform="rotate(-90 202.5 406.4)">Fold Change Over Mock</text>
<text x="275.4" y="495.1" font-size="11.9" text-anchor="middle" font-weight="bold" fill="#000">IFNB</text>
<rect x="392.4" y="452.31" width="9.2" height="26.79" fill="#000000"/>
<line x1="397" y1="452.31" x2="397" y2="449.75" stroke="#777777" stroke-width="1"/>
<line x1="394.8" y1="449.75" x2="399.2" y2="449.75" stroke="#777777" stroke-width="1"/>
<line x1="397" y1="452.31" x2="397" y2="454.88" stroke="#bbbbbb" stroke-width="1"/>
<line x1="394.8" y1="454.88" x2="399.2" y2="454.88" stroke="#bbbbbb" stroke-width="1"/>
<circle cx="393.7" cy="449.75" r="1.7" fill="#fff" stroke="#a0a0a0" stroke-width="0.9"/>
<rect x="406" y="451.03" width="9.2" height="28.07" fill="#f5474b"/>
<line x1="410.6" y1="451.03" x2="410.6" y2="447.91" stroke="#f77a7d" stroke-width="1"/>
<line x1="408.4" y1="447.91" x2="412.8" y2="447.91" stroke="#f77a7d" stroke-width="1"/>
<circle cx="407.3" cy="448.83" r="1.7" fill="#fff" stroke="#f88a8c" stroke-width="0.9"/>
<circle cx="413.9" cy="448.83" r="1.7" fill="#fff" stroke="#f88a8c" stroke-width="0.9"/>
<rect x="419.8" y="397.64" width="9.2" height="81.46" fill="#0000ff"/>
<line x1="424.4" y1="397.64" x2="424.4" y2="386.45" stroke="#6a6aff" stroke-width="1"/>
<line x1="422.2" y1="386.45" x2="426.6" y2="386.45" stroke="#6a6aff" stroke-width="1"/>
<circle cx="424.4" cy="387.37" r="1.7" fill="#fff" stroke="#7a7aff" stroke-width="0.9"/>
<circle cx="424.4" cy="394.71" r="1.7" fill="#fff" stroke="#7a7aff" stroke-width="0.9"/>
<rect x="433.2" y="454.15" width="9.2" height="24.95" fill="#00b900"/>
<line x1="437.8" y1="454.15" x2="437.8" y2="441.49" stroke="#66d466" stroke-width="1"/>
<line x1="435.6" y1="441.49" x2="440" y2="441.49" stroke="#66d466" stroke-width="1"/>
<circle cx="437.8" cy="441.49" r="1.7" fill="#fff" stroke="#77d877" stroke-width="0.9"/>
<rect x="447" y="470.02" width="9.2" height="9.08" fill="#ff8000"/>
<line x1="451.6" y1="470.02" x2="451.6" y2="466.35" stroke="#ffb070" stroke-width="1"/>
<line x1="449.4" y1="466.35" x2="453.8" y2="466.35" stroke="#ffb070" stroke-width="1"/>
<circle cx="451.6" cy="466.26" r="1.7" fill="#fff" stroke="#ffb070" stroke-width="0.9"/>
<line x1="388" y1="341" x2="388" y2="479.1" stroke="#000" stroke-width="1.3"/>
<line x1="384.4" y1="479.1" x2="461.2" y2="479.1" stroke="#000" stroke-width="1.3"/>
<line x1="384.5" y1="479.1" x2="388" y2="479.1" stroke="#000" stroke-width="1"/>
<text x="383.5" y="483.42" font-size="12" text-anchor="end" font-weight="bold" fill="#000">0</text>
<line x1="384.5" y1="433.23" x2="388" y2="433.23" stroke="#000" stroke-width="1"/>
<text x="383.5" y="437.55" font-size="12" text-anchor="end" font-weight="bold" fill="#000">500</text>
<line x1="384.5" y1="387.37" x2="388" y2="387.37" stroke="#000" stroke-width="1"/>
<text x="383.5" y="391.69" font-size="12" text-anchor="end" font-weight="bold" fill="#000">1000</text>
<line x1="384.5" y1="341.5" x2="388" y2="341.5" stroke="#000" stroke-width="1"/>
<text x="383.5" y="345.82" font-size="12" text-anchor="end" font-weight="bold" fill="#000">1500</text>
<line x1="386.4" y1="469.93" x2="388" y2="469.93" stroke="#000" stroke-width="1"/>
<line x1="386.4" y1="460.75" x2="388" y2="460.75" stroke="#000" stroke-width="1"/>
<line x1="386.4" y1="451.58" x2="388" y2="451.58" stroke="#000" stroke-width="1"/>
<line x1="386.4" y1="442.41" x2="388" y2="442.41" stroke="#000" stroke-width="1"/>
<line x1="386.4" y1="424.06" x2="388" y2="424.06" stroke="#000" stroke-width="1"/>
<line x1="386.4" y1="414.89" x2="388" y2="414.89" stroke="#000" stroke-width="1"/>
<line x1="386.4" y1="405.71" x2="388" y2="405.71" stroke="#000" stroke-width="1"/>
<line x1="386.4" y1="396.54" x2="388" y2="396.54" stroke="#000" stroke-width="1"/>
<line x1="386.4" y1="378.19" x2="388" y2="378.19" stroke="#000" stroke-width="1"/>
<line x1="386.4" y1="369.02" x2="388" y2="369.02" stroke="#000" stroke-width="1"/>
<line x1="386.4" y1="359.85" x2="388" y2="359.85" stroke="#000" stroke-width="1"/>
<line x1="386.4" y1="350.67" x2="388" y2="350.67" stroke="#000" stroke-width="1"/>
<line x1="424.1" y1="479.1" x2="424.1" y2="482.1" stroke="#000" stroke-width="1"/>
<line x1="397.2" y1="376.5" x2="424.1" y2="376.5" stroke="#222" stroke-width="1"/>
<polygon points="402.7,368.05 403.32,369.42 404.82,369.27 403.95,370.5 404.82,371.73 403.32,371.58 402.7,372.95 402.07,371.58 400.58,371.73 401.45,370.5 400.58,369.27 402.07,369.42" fill="#0000ff"/>
<polygon points="407.9,368.05 408.52,369.42 410.02,369.27 409.15,370.5 410.02,371.73 408.52,371.58 407.9,372.95 407.27,371.58 405.78,371.73 406.65,370.5 405.78,369.27 407.27,369.42" fill="#0000ff"/>
<polygon points="413.1,368.05 413.73,369.42 415.22,369.27 414.35,370.5 415.22,371.73 413.73,371.58 413.1,372.95 412.48,371.58 410.98,371.73 411.85,370.5 410.98,369.27 412.48,369.42" fill="#0000ff"/>
<polygon points="418.3,368.05 418.93,369.42 420.42,369.27 419.55,370.5 420.42,371.73 418.93,371.58 418.3,372.95 417.68,371.58 416.18,371.73 417.05,370.5 416.18,369.27 417.68,369.42" fill="#0000ff"/>
<line x1="397.2" y1="358.5" x2="451.6" y2="358.5" stroke="#222" stroke-width="1"/>
<polygon points="424.1,349.45 424.73,350.82 426.22,350.67 425.35,351.9 426.22,353.12 424.73,352.98 424.1,354.35 423.48,352.98 421.98,353.12 422.85,351.9 421.98,350.67 423.48,350.82" fill="#ff8000"/>
<text x="351.5" y="406.4" font-size="11.8" text-anchor="middle" font-weight="bold" fill="#000" transform="rotate(-90 351.5 406.4)">Fold Change Over Mock</text>
<text x="424" y="495.1" font-size="11.9" text-anchor="middle" font-weight="bold" fill="#000">IFNL1</text>
<rect x="530.6" y="408.2" width="9.2" height="71" fill="#000000"/>
<line x1="535.2" y1="408.2" x2="535.2" y2="404.35" stroke="#777777" stroke-width="1"/>
<line x1="533" y1="404.35" x2="537.4" y2="404.35" stroke="#777777" stroke-width="1"/>
<line x1="535.2" y1="408.2" x2="535.2" y2="412.05" stroke="#bbbbbb" stroke-width="1"/>
<line x1="533" y1="412.05" x2="537.4" y2="412.05" stroke="#bbbbbb" stroke-width="1"/>
<circle cx="535.2" cy="401.04" r="1.7" fill="#fff" stroke="#a0a0a0" stroke-width="0.9"/>
<rect x="544.1" y="454.16" width="9.2" height="25.04" fill="#f5474b"/>
<line x1="548.7" y1="454.16" x2="548.7" y2="452.23" stroke="#f77a7d" stroke-width="1"/>
<line x1="546.5" y1="452.23" x2="550.9" y2="452.23" stroke="#f77a7d" stroke-width="1"/>
<circle cx="545.4" cy="451.68" r="1.7" fill="#fff" stroke="#f88a8c" stroke-width="0.9"/>
<circle cx="552" cy="452.78" r="1.7" fill="#fff" stroke="#f88a8c" stroke-width="0.9"/>
<rect x="557.7" y="453.88" width="9.2" height="25.32" fill="#0000ff"/>
<line x1="562.3" y1="453.88" x2="562.3" y2="452.78" stroke="#6a6aff" stroke-width="1"/>
<line x1="560.1" y1="452.78" x2="564.5" y2="452.78" stroke="#6a6aff" stroke-width="1"/>
<circle cx="559" cy="452.78" r="1.7" fill="#fff" stroke="#7a7aff" stroke-width="0.9"/>
<circle cx="562.3" cy="453.33" r="1.7" fill="#fff" stroke="#7a7aff" stroke-width="0.9"/>
<rect x="571.6" y="460.76" width="9.2" height="18.44" fill="#00b900"/>
<line x1="576.2" y1="460.76" x2="576.2" y2="454.98" stroke="#66d466" stroke-width="1"/>
<line x1="574" y1="454.98" x2="578.4" y2="454.98" stroke="#66d466" stroke-width="1"/>
<circle cx="576.2" cy="454.98" r="1.7" fill="#fff" stroke="#77d877" stroke-width="0.9"/>
<rect x="585.2" y="395.26" width="9.2" height="83.94" fill="#ff8000"/>
<line x1="589.8" y1="395.26" x2="589.8" y2="362.52" stroke="#ffb070" stroke-width="1"/>
<line x1="587.6" y1="362.52" x2="592" y2="362.52" stroke="#ffb070" stroke-width="1"/>
<circle cx="589.8" cy="358.66" r="1.7" fill="#fff" stroke="#ffb070" stroke-width="0.9"/>
<line x1="526.1" y1="341.1" x2="526.1" y2="479.2" stroke="#000" stroke-width="1.3"/>
<line x1="521.8" y1="479.2" x2="599.6" y2="479.2" stroke="#000" stroke-width="1.3"/>
<line x1="522.6" y1="479.2" x2="526.1" y2="479.2" stroke="#000" stroke-width="1"/>
<text x="521.6" y="483.52" font-size="12" text-anchor="end" font-weight="bold" fill="#000">0</text>
<line x1="522.6" y1="451.68" x2="526.1" y2="451.68" stroke="#000" stroke-width="1"/>
<text x="521.6" y="456" font-size="12" text-anchor="end" font-weight="bold" fill="#000">5</text>
<line x1="522.6" y1="424.16" x2="526.1" y2="424.16" stroke="#000" stroke-width="1"/>
<text x="521.6" y="428.48" font-size="12" text-anchor="end" font-weight="bold" fill="#000">10</text>
<line x1="522.6" y1="396.64" x2="526.1" y2="396.64" stroke="#000" stroke-width="1"/>
<text x="521.6" y="400.96" font-size="12" text-anchor="end" font-weight="bold" fill="#000">15</text>
<line x1="522.6" y1="369.12" x2="526.1" y2="369.12" stroke="#000" stroke-width="1"/>
<text x="521.6" y="373.44" font-size="12" text-anchor="end" font-weight="bold" fill="#000">20</text>
<line x1="522.6" y1="341.6" x2="526.1" y2="341.6" stroke="#000" stroke-width="1"/>
<text x="521.6" y="345.92" font-size="12" text-anchor="end" font-weight="bold" fill="#000">25</text>
<line x1="562.4" y1="479.2" x2="562.4" y2="482.2" stroke="#000" stroke-width="1"/>
<line x1="535.2" y1="347.5" x2="548.8" y2="347.5" stroke="#222" stroke-width="1"/>
<polygon points="541.9,339.25 542.52,340.62 544.02,340.47 543.15,341.7 544.02,342.93 542.52,342.78 541.9,344.15 541.27,342.78 539.78,342.93 540.65,341.7 539.78,340.47 541.27,340.62" fill="#f5474b"/>
<line x1="535.2" y1="329.5" x2="562.4" y2="329.5" stroke="#222" stroke-width="1"/>
<polygon points="548.8,321.15 549.42,322.52 550.92,322.38 550.05,323.6 550.92,324.83 549.42,324.68 548.8,326.05 548.17,324.68 546.68,324.83 547.55,323.6 546.68,322.38 548.17,322.52" fill="#0000ff"/>
<line x1="535.2" y1="310.5" x2="576" y2="310.5" stroke="#222" stroke-width="1"/>
<polygon points="552.9,302.75 553.52,304.12 555.02,303.97 554.15,305.2 555.02,306.43 553.52,306.28 552.9,307.65 552.27,306.28 550.78,306.43 551.65,305.2 550.78,303.97 552.27,304.12" fill="#00b900"/>
<polygon points="558.1,302.75 558.73,304.12 560.22,303.97 559.35,305.2 560.22,306.43 558.73,306.28 558.1,307.65 557.48,306.28 555.98,306.43 556.85,305.2 555.98,303.97 557.48,304.12" fill="#00b900"/>
<text x="503" y="406.4" font-size="11.8" text-anchor="middle" font-weight="bold" fill="#000" transform="rotate(-90 503 406.4)">Fold Change Over Mock</text>
<text x="562.3" y="495.2" font-size="11.9" text-anchor="middle" font-weight="bold" fill="#000">OAS2</text>
<rect x="669.8" y="419.34" width="9.2" height="59.86" fill="#000000"/>
<line x1="674.4" y1="419.34" x2="674.4" y2="417.97" stroke="#777777" stroke-width="1"/>
<line x1="672.2" y1="417.97" x2="676.6" y2="417.97" stroke="#777777" stroke-width="1"/>
<circle cx="671.4" cy="418.14" r="1.6" fill="#fff" stroke="#000000" stroke-width="1.1"/>
<circle cx="674.4" cy="418.14" r="1.6" fill="#fff" stroke="#000000" stroke-width="1.1"/>
<circle cx="677.4" cy="418.14" r="1.6" fill="#fff" stroke="#000000" stroke-width="1.1"/>
<circle cx="674.4" cy="420.72" r="1.6" fill="#fff" stroke="#000000" stroke-width="1.1"/>
<rect x="683.3" y="463.03" width="9.2" height="16.17" fill="#f5474b"/>
<line x1="687.9" y1="463.03" x2="687.9" y2="459.08" stroke="#f77a7d" stroke-width="1"/>
<line x1="685.7" y1="459.08" x2="690.1" y2="459.08" stroke="#f77a7d" stroke-width="1"/>
<circle cx="687.9" cy="458.9" r="1.7" fill="#fff" stroke="#f88a8c" stroke-width="1"/>
<circle cx="684.9" cy="464.06" r="1.6" fill="#fff" stroke="#f5474b" stroke-width="1.1"/>
<circle cx="690.9" cy="463.38" r="1.6" fill="#fff" stroke="#f5474b" stroke-width="1.1"/>
<rect x="697.2" y="453.4" width="9.2" height="25.8" fill="#0000ff"/>
<line x1="701.8" y1="453.4" x2="701.8" y2="452.02" stroke="#6a6aff" stroke-width="1"/>
<line x1="699.6" y1="452.02" x2="704" y2="452.02" stroke="#6a6aff" stroke-width="1"/>
<circle cx="698.8" cy="452.02" r="1.6" fill="#fff" stroke="#0000ff" stroke-width="1.1"/>
<circle cx="704.8" cy="453.06" r="1.6" fill="#fff" stroke="#0000ff" stroke-width="1.1"/>
<circle cx="701.8" cy="453.74" r="1.6" fill="#fff" stroke="#0000ff" stroke-width="1.1"/>
<rect x="710.8" y="466.13" width="9.2" height="13.07" fill="#00b900"/>
<line x1="715.4" y1="466.13" x2="715.4" y2="458.22" stroke="#66d466" stroke-width="1"/>
<line x1="713.2" y1="458.22" x2="717.6" y2="458.22" stroke="#66d466" stroke-width="1"/>
<circle cx="715.4" cy="458.56" r="1.7" fill="#fff" stroke="#77d877" stroke-width="1"/>
<circle cx="712.4" cy="468.88" r="1.6" fill="#fff" stroke="#00b900" stroke-width="1.1"/>
<circle cx="718.4" cy="468.88" r="1.6" fill="#fff" stroke="#00b900" stroke-width="1.1"/>
<rect x="724.5" y="401.46" width="9.2" height="77.74" fill="#ff8000"/>
<line x1="729.1" y1="401.46" x2="729.1" y2="364.3" stroke="#ffb070" stroke-width="1"/>
<line x1="726.9" y1="364.3" x2="731.3" y2="364.3" stroke="#ffb070" stroke-width="1"/>
<circle cx="729.1" cy="358.8" r="1.7" fill="#fff" stroke="#ffb070" stroke-width="1"/>
<circle cx="725.8" cy="422.44" r="1.6" fill="#fff" stroke="#ff8000" stroke-width="1.1"/>
<circle cx="732.4" cy="422.44" r="1.6" fill="#fff" stroke="#ff8000" stroke-width="1.1"/>
<line x1="665.7" y1="341.1" x2="665.7" y2="479.2" stroke="#000" stroke-width="1.3"/>
<line x1="660.6" y1="479.2" x2="739.2" y2="479.2" stroke="#000" stroke-width="1.3"/>
<line x1="662.2" y1="479.2" x2="665.7" y2="479.2" stroke="#000" stroke-width="1"/>
<text x="661.2" y="483.52" font-size="12" text-anchor="end" font-weight="bold" fill="#000">0</text>
<line x1="662.2" y1="444.8" x2="665.7" y2="444.8" stroke="#000" stroke-width="1"/>
<text x="661.2" y="449.12" font-size="12" text-anchor="end" font-weight="bold" fill="#000">10</text>
<line x1="662.2" y1="410.4" x2="665.7" y2="410.4" stroke="#000" stroke-width="1"/>
<text x="661.2" y="414.72" font-size="12" text-anchor="end" font-weight="bold" fill="#000">20</text>
<line x1="662.2" y1="376" x2="665.7" y2="376" stroke="#000" stroke-width="1"/>
<text x="661.2" y="380.32" font-size="12" text-anchor="end" font-weight="bold" fill="#000">30</text>
<line x1="662.2" y1="341.6" x2="665.7" y2="341.6" stroke="#000" stroke-width="1"/>
<text x="661.2" y="345.92" font-size="12" text-anchor="end" font-weight="bold" fill="#000">40</text>
<line x1="701.3" y1="479.2" x2="701.3" y2="482.2" stroke="#000" stroke-width="1"/>
<line x1="674.6" y1="348.5" x2="687.6" y2="348.5" stroke="#222" stroke-width="1"/>
<polygon points="681,339.55 681.62,340.92 683.12,340.77 682.25,342 683.12,343.23 681.62,343.08 681,344.45 680.38,343.08 678.88,343.23 679.75,342 678.88,340.77 680.38,340.92" fill="#f5474b"/>
<line x1="674.6" y1="329.5" x2="715" y2="329.5" stroke="#222" stroke-width="1"/>
<polygon points="694.9,321.35 695.52,322.72 697.02,322.57 696.15,323.8 697.02,325.03 695.52,324.88 694.9,326.25 694.27,324.88 692.78,325.03 693.65,323.8 692.78,322.57 694.27,322.72" fill="#00b900"/>
<text x="640.8" y="406" font-size="11.8" text-anchor="middle" font-weight="bold" fill="#000" transform="rotate(-90 640.8 406)">Fold Change Over Mock</text>
<text x="701.2" y="495.7" font-size="11.9" text-anchor="middle" font-weight="bold" fill="#000">IFIT1</text>
<rect x="77.8" y="587.29" width="9.2" height="108.21" fill="#000000"/>
<line x1="82.4" y1="587.29" x2="82.4" y2="579.41" stroke="#777777" stroke-width="1"/>
<line x1="80.2" y1="579.41" x2="84.6" y2="579.41" stroke="#777777" stroke-width="1"/>
<circle cx="82.4" cy="579.41" r="1.6" fill="#fff" stroke="#000000" stroke-width="1.1"/>
<circle cx="82.4" cy="590.47" r="1.6" fill="#fff" stroke="#000000" stroke-width="1.1"/>
<circle cx="82.4" cy="594.61" r="1.6" fill="#fff" stroke="#000000" stroke-width="1.1"/>
<rect x="91.7" y="580.1" width="9.2" height="115.4" fill="#ff0000"/>
<line x1="96.3" y1="580.1" x2="96.3" y2="576.65" stroke="#f77a7d" stroke-width="1"/>
<line x1="94.1" y1="576.65" x2="98.5" y2="576.65" stroke="#f77a7d" stroke-width="1"/>
<circle cx="96.3" cy="576.65" r="1.6" fill="#fff" stroke="#ff0000" stroke-width="1.1"/>
<circle cx="96.3" cy="580.79" r="1.6" fill="#fff" stroke="#ff0000" stroke-width="1.1"/>
<circle cx="96.3" cy="584.94" r="1.6" fill="#fff" stroke="#ff0000" stroke-width="1.1"/>
<rect x="105.4" y="585.91" width="9.2" height="109.59" fill="#0000ff"/>
<line x1="110" y1="585.91" x2="110" y2="583.56" stroke="#6a6aff" stroke-width="1"/>
<line x1="107.8" y1="583.56" x2="112.2" y2="583.56" stroke="#6a6aff" stroke-width="1"/>
<circle cx="106.7" cy="583.56" r="1.6" fill="#fff" stroke="#0000ff" stroke-width="1.1"/>
<circle cx="113.3" cy="584.25" r="1.6" fill="#fff" stroke="#0000ff" stroke-width="1.1"/>
<circle cx="110" cy="589.09" r="1.6" fill="#fff" stroke="#0000ff" stroke-width="1.1"/>
<rect x="118.9" y="575.68" width="9.2" height="119.82" fill="#22bb11"/>
<line x1="123.5" y1="575.68" x2="123.5" y2="573.19" stroke="#66d466" stroke-width="1"/>
<line x1="121.3" y1="573.19" x2="125.7" y2="573.19" stroke="#66d466" stroke-width="1"/>
<circle cx="123.5" cy="573.19" r="1.6" fill="#fff" stroke="#22bb11" stroke-width="1.1"/>
<circle cx="120.2" cy="576.65" r="1.6" fill="#fff" stroke="#22bb11" stroke-width="1.1"/>
<circle cx="126.8" cy="577.34" r="1.6" fill="#fff" stroke="#22bb11" stroke-width="1.1"/>
<rect x="132.7" y="583.56" width="9.2" height="111.94" fill="#ff8000"/>
<line x1="137.3" y1="583.56" x2="137.3" y2="582.87" stroke="#ffb070" stroke-width="1"/>
<line x1="135.1" y1="582.87" x2="139.5" y2="582.87" stroke="#ffb070" stroke-width="1"/>
<circle cx="134" cy="582.87" r="1.6" fill="#fff" stroke="#ff8000" stroke-width="1.1"/>
<circle cx="137.3" cy="583.56" r="1.6" fill="#fff" stroke="#ff8000" stroke-width="1.1"/>
<circle cx="140.6" cy="583.56" r="1.6" fill="#fff" stroke="#ff8000" stroke-width="1.1"/>
<line x1="73.5" y1="556.8" x2="73.5" y2="695.5" stroke="#000" stroke-width="1.3"/>
<line x1="71.1" y1="695.5" x2="146.7" y2="695.5" stroke="#000" stroke-width="1.3"/>
<line x1="70.5" y1="695.5" x2="73.5" y2="695.5" stroke="#000" stroke-width="1"/>
<text x="69.5" y="698.49" font-size="8.3" text-anchor="end" font-weight="bold" fill="#000">0</text>
<line x1="70.5" y1="667.86" x2="73.5" y2="667.86" stroke="#000" stroke-width="1"/>
<text x="69.5" y="670.85" font-size="8.3" text-anchor="end" font-weight="bold" fill="#000">2</text>
<line x1="70.5" y1="640.22" x2="73.5" y2="640.22" stroke="#000" stroke-width="1"/>
<text x="69.5" y="643.21" font-size="8.3" text-anchor="end" font-weight="bold" fill="#000">4</text>
<line x1="70.5" y1="612.58" x2="73.5" y2="612.58" stroke="#000" stroke-width="1"/>
<text x="69.5" y="615.57" font-size="8.3" text-anchor="end" font-weight="bold" fill="#000">6</text>
<line x1="70.5" y1="584.94" x2="73.5" y2="584.94" stroke="#000" stroke-width="1"/>
<text x="69.5" y="587.93" font-size="8.3" text-anchor="end" font-weight="bold" fill="#000">8</text>
<line x1="70.5" y1="557.3" x2="73.5" y2="557.3" stroke="#000" stroke-width="1"/>
<text x="69.5" y="560.29" font-size="8.3" text-anchor="end" font-weight="bold" fill="#000">10</text>
<line x1="82.4" y1="695.5" x2="82.4" y2="699.1" stroke="#000" stroke-width="1"/>
<line x1="96.3" y1="695.5" x2="96.3" y2="699.1" stroke="#000" stroke-width="1"/>
<line x1="110" y1="695.5" x2="110" y2="699.1" stroke="#000" stroke-width="1"/>
<line x1="123.5" y1="695.5" x2="123.5" y2="699.1" stroke="#000" stroke-width="1"/>
<line x1="137.3" y1="695.5" x2="137.3" y2="699.1" stroke="#000" stroke-width="1"/>
<text x="54.6" y="624.6" font-size="11.5" text-anchor="middle" font-weight="bold" fill="#000" transform="rotate(-90 54.6 624.6)">Genomic copies  RdRp/ugRNA</text>
<text x="86.6" y="709.5" font-size="12" text-anchor="end" font-weight="bold" fill="#000" transform="rotate(-45 86.6 709.5)">WT</text>
<text x="100.5" y="709.5" font-size="12" text-anchor="end" font-weight="bold" fill="#000" transform="rotate(-45 100.5 709.5)">Alpha</text>
<text x="114.2" y="709.5" font-size="12" text-anchor="end" font-weight="bold" fill="#000" transform="rotate(-45 114.2 709.5)">Beta</text>
<text x="127.7" y="709.5" font-size="12" text-anchor="end" font-weight="bold" fill="#000" transform="rotate(-45 127.7 709.5)">Delta</text>
<text x="141.5" y="709.5" font-size="12" text-anchor="end" font-weight="bold" fill="#000" transform="rotate(-45 141.5 709.5)">Omicron</text>
<rect x="234.4" y="695.55" width="9.2" height="30.75" fill="#000000"/>
<line x1="239" y1="695.55" x2="239" y2="669.38" stroke="#777777" stroke-width="1"/>
<line x1="236.8" y1="669.38" x2="241.2" y2="669.38" stroke="#777777" stroke-width="1"/>
<circle cx="239" cy="665.71" r="1.6" fill="#fff" stroke="#000000" stroke-width="1.1"/>
<circle cx="235.7" cy="709.09" r="1.6" fill="#fff" stroke="#000000" stroke-width="1.1"/>
<circle cx="242.3" cy="709.09" r="1.6" fill="#fff" stroke="#000000" stroke-width="1.1"/>
<rect x="248" y="640.47" width="9.2" height="85.83" fill="#f5474b"/>
<line x1="252.6" y1="640.47" x2="252.6" y2="620.27" stroke="#ff1a1a" stroke-width="1"/>
<line x1="250.4" y1="620.27" x2="254.8" y2="620.27" stroke="#ff1a1a" stroke-width="1"/>
<line x1="252.6" y1="640.47" x2="252.6" y2="660.66" stroke="#ff0000" stroke-width="1"/>
<line x1="250.4" y1="660.66" x2="254.8" y2="660.66" stroke="#ff0000" stroke-width="1"/>
<circle cx="252.6" cy="624.86" r="1.6" fill="#fff" stroke="#f5474b" stroke-width="1.1"/>
<circle cx="252.6" cy="633.12" r="1.6" fill="#fff" stroke="#f5474b" stroke-width="1.1"/>
<circle cx="252.6" cy="662.04" r="1.6" fill="#fff" stroke="#f5474b" stroke-width="1.1"/>
<rect x="261.7" y="703.81" width="9.2" height="22.49" fill="#0000ff"/>
<line x1="266.3" y1="703.81" x2="266.3" y2="700.6" stroke="#4a4aff" stroke-width="1"/>
<line x1="264.1" y1="700.6" x2="268.5" y2="700.6" stroke="#4a4aff" stroke-width="1"/>
<circle cx="263" cy="699.68" r="1.6" fill="#fff" stroke="#0000ff" stroke-width="1.1"/>
<circle cx="269.6" cy="701.51" r="1.6" fill="#fff" stroke="#0000ff" stroke-width="1.1"/>
<circle cx="266.3" cy="709.32" r="1.6" fill="#fff" stroke="#0000ff" stroke-width="1.1"/>
<rect x="275.5" y="662.5" width="9.2" height="63.8" fill="#00b900"/>
<line x1="280.1" y1="662.5" x2="280.1" y2="661.12" stroke="#66d466" stroke-width="1"/>
<line x1="277.9" y1="661.12" x2="282.3" y2="661.12" stroke="#66d466" stroke-width="1"/>
<circle cx="276.9" cy="662.73" r="1.6" fill="#fff" stroke="#00b900" stroke-width="1.1"/>
<circle cx="280.1" cy="661.81" r="1.6" fill="#fff" stroke="#00b900" stroke-width="1.1"/>
<circle cx="283.3" cy="660.89" r="1.6" fill="#fff" stroke="#00b900" stroke-width="1.1"/>
<rect x="289.1" y="624.4" width="9.2" height="101.9" fill="#ff8000"/>
<line x1="293.7" y1="624.4" x2="293.7" y2="595.49" stroke="#ff8c1a" stroke-width="1"/>
<line x1="291.5" y1="595.49" x2="295.9" y2="595.49" stroke="#ff8c1a" stroke-width="1"/>
<circle cx="293.7" cy="601.91" r="1.6" fill="#fff" stroke="#ff8000" stroke-width="1.1"/>
<circle cx="293.7" cy="614.3" r="1.6" fill="#fff" stroke="#ff8000" stroke-width="1.1"/>
<circle cx="293.7" cy="655.15" r="1.6" fill="#fff" stroke="#ff8000" stroke-width="1.1"/>
<line x1="230" y1="588.1" x2="230" y2="726.3" stroke="#000" stroke-width="1.3"/>
<line x1="226.1" y1="726.3" x2="303.4" y2="726.3" stroke="#000" stroke-width="1.3"/>
<line x1="226.5" y1="726.3" x2="230" y2="726.3" stroke="#000" stroke-width="1"/>
<text x="225.5" y="730.62" font-size="12" text-anchor="end" font-weight="bold" fill="#000">0</text>
<line x1="226.5" y1="680.4" x2="230" y2="680.4" stroke="#000" stroke-width="1"/>
<text x="225.5" y="684.72" font-size="12" text-anchor="end" font-weight="bold" fill="#000">10</text>
<line x1="226.5" y1="634.5" x2="230" y2="634.5" stroke="#000" stroke-width="1"/>
<text x="225.5" y="638.82" font-size="12" text-anchor="end" font-weight="bold" fill="#000">20</text>
<line x1="226.5" y1="588.6" x2="230" y2="588.6" stroke="#000" stroke-width="1"/>
<text x="225.5" y="592.92" font-size="12" text-anchor="end" font-weight="bold" fill="#000">30</text>
<line x1="228.4" y1="703.35" x2="230" y2="703.35" stroke="#000" stroke-width="1"/>
<line x1="228.4" y1="657.45" x2="230" y2="657.45" stroke="#000" stroke-width="1"/>
<line x1="228.4" y1="611.55" x2="230" y2="611.55" stroke="#000" stroke-width="1"/>
<line x1="266" y1="726.3" x2="266" y2="729.3" stroke="#000" stroke-width="1"/>
<line x1="238.9" y1="585.5" x2="293.4" y2="585.5" stroke="#222" stroke-width="1"/>
<polygon points="266.3,577.05 266.93,578.42 268.42,578.27 267.55,579.5 268.42,580.73 266.93,580.58 266.3,581.95 265.68,580.58 264.18,580.73 265.05,579.5 264.18,578.27 265.68,578.42" fill="#ff8000"/>
<text x="202" y="654" font-size="11.8" text-anchor="middle" font-weight="bold" fill="#000" transform="rotate(-90 202 654)">Fold Change Over Mock</text>
<text x="265.9" y="742" font-size="11.9" text-anchor="middle" font-weight="bold" fill="#000">IFNB</text>
<rect x="385.7" y="695.98" width="9.2" height="30.32" fill="#000000"/>
<line x1="390.3" y1="695.98" x2="390.3" y2="670.26" stroke="#777777" stroke-width="1"/>
<line x1="388.1" y1="670.26" x2="392.5" y2="670.26" stroke="#777777" stroke-width="1"/>
<circle cx="390.3" cy="666.59" r="1.6" fill="#fff" stroke="#000000" stroke-width="1.1"/>
<circle cx="390.3" cy="707.93" r="1.6" fill="#fff" stroke="#000000" stroke-width="1.1"/>
<circle cx="390.3" cy="711.6" r="1.6" fill="#fff" stroke="#000000" stroke-width="1.1"/>
<rect x="399.1" y="665.67" width="9.2" height="60.63" fill="#f5474b"/>
<line x1="403.7" y1="665.67" x2="403.7" y2="647.29" stroke="#ff1a1a" stroke-width="1"/>
<line x1="401.5" y1="647.29" x2="405.9" y2="647.29" stroke="#ff1a1a" stroke-width="1"/>
<line x1="403.7" y1="665.67" x2="403.7" y2="684.04" stroke="#ff0000" stroke-width="1"/>
<line x1="401.5" y1="684.04" x2="405.9" y2="684.04" stroke="#ff0000" stroke-width="1"/>
<circle cx="403.7" cy="649.13" r="1.6" fill="#fff" stroke="#f5474b" stroke-width="1.1"/>
<circle cx="403.7" cy="660.16" r="1.6" fill="#fff" stroke="#f5474b" stroke-width="1.1"/>
<circle cx="403.7" cy="684.04" r="1.6" fill="#fff" stroke="#f5474b" stroke-width="1.1"/>
<rect x="412.9" y="711.97" width="9.2" height="14.33" fill="#0000ff"/>
<line x1="417.5" y1="711.97" x2="417.5" y2="708.85" stroke="#4a4aff" stroke-width="1"/>
<line x1="415.3" y1="708.85" x2="419.7" y2="708.85" stroke="#4a4aff" stroke-width="1"/>
<circle cx="414.2" cy="708.85" r="1.6" fill="#fff" stroke="#0000ff" stroke-width="1.1"/>
<circle cx="420.8" cy="709.76" r="1.6" fill="#fff" stroke="#0000ff" stroke-width="1.1"/>
<circle cx="417.5" cy="716.19" r="1.6" fill="#fff" stroke="#0000ff" stroke-width="1.1"/>
<rect x="426.4" y="662.45" width="9.2" height="63.85" fill="#00b900"/>
<line x1="431" y1="662.45" x2="431" y2="648.21" stroke="#66d466" stroke-width="1"/>
<line x1="428.8" y1="648.21" x2="433.2" y2="648.21" stroke="#66d466" stroke-width="1"/>
<circle cx="431" cy="650.97" r="1.6" fill="#fff" stroke="#00b900" stroke-width="1.1"/>
<circle cx="431" cy="671.18" r="1.6" fill="#fff" stroke="#00b900" stroke-width="1.1"/>
<rect x="440" y="633.51" width="9.2" height="92.79" fill="#ff8000"/>
<line x1="444.6" y1="633.51" x2="444.6" y2="627.08" stroke="#ff8c1a" stroke-width="1"/>
<line x1="442.4" y1="627.08" x2="446.8" y2="627.08" stroke="#ff8c1a" stroke-width="1"/>
<circle cx="441.3" cy="628" r="1.6" fill="#fff" stroke="#ff8000" stroke-width="1.1"/>
<circle cx="447.9" cy="628.92" r="1.6" fill="#fff" stroke="#ff8000" stroke-width="1.1"/>
<circle cx="444.6" cy="640.86" r="1.6" fill="#fff" stroke="#ff8000" stroke-width="1.1"/>
<line x1="381.1" y1="588" x2="381.1" y2="726.3" stroke="#000" stroke-width="1.3"/>
<line x1="377.9" y1="726.3" x2="454.4" y2="726.3" stroke="#000" stroke-width="1.3"/>
<line x1="377.6" y1="726.3" x2="381.1" y2="726.3" stroke="#000" stroke-width="1"/>
<text x="376.6" y="730.62" font-size="12" text-anchor="end" font-weight="bold" fill="#000">0</text>
<line x1="377.6" y1="680.37" x2="381.1" y2="680.37" stroke="#000" stroke-width="1"/>
<text x="376.6" y="684.69" font-size="12" text-anchor="end" font-weight="bold" fill="#000">50</text>
<line x1="377.6" y1="634.43" x2="381.1" y2="634.43" stroke="#000" stroke-width="1"/>
<text x="376.6" y="638.75" font-size="12" text-anchor="end" font-weight="bold" fill="#000">100</text>
<line x1="377.6" y1="588.5" x2="381.1" y2="588.5" stroke="#000" stroke-width="1"/>
<text x="376.6" y="592.82" font-size="12" text-anchor="end" font-weight="bold" fill="#000">150</text>
<line x1="379.5" y1="703.33" x2="381.1" y2="703.33" stroke="#000" stroke-width="1"/>
<line x1="379.5" y1="657.4" x2="381.1" y2="657.4" stroke="#000" stroke-width="1"/>
<line x1="379.5" y1="611.47" x2="381.1" y2="611.47" stroke="#000" stroke-width="1"/>
<line x1="417.5" y1="726.3" x2="417.5" y2="729.3" stroke="#000" stroke-width="1"/>
<line x1="390.3" y1="617.5" x2="444.6" y2="617.5" stroke="#222" stroke-width="1"/>
<polygon points="414.6,609.35 415.22,610.72 416.72,610.57 415.85,611.8 416.72,613.02 415.22,612.88 414.6,614.25 413.97,612.88 412.48,613.02 413.35,611.8 412.48,610.57 413.97,610.72" fill="#ff8000"/>
<polygon points="419.8,609.35 420.43,610.72 421.92,610.57 421.05,611.8 421.92,613.02 420.43,612.88 419.8,614.25 419.18,612.88 417.68,613.02 418.55,611.8 417.68,610.57 419.18,610.72" fill="#ff8000"/>
<text x="349.6" y="654" font-size="11.8" text-anchor="middle" font-weight="bold" fill="#000" transform="rotate(-90 349.6 654)">Fold Change Over Mock</text>
<text x="417.1" y="742" font-size="11.9" text-anchor="middle" font-weight="bold" fill="#000">IFNL1</text>
<rect x="534.4" y="703.38" width="9.2" height="22.92" fill="#000000"/>
<line x1="539" y1="703.38" x2="539" y2="698.34" stroke="#777777" stroke-width="1"/>
<line x1="536.8" y1="698.34" x2="541.2" y2="698.34" stroke="#777777" stroke-width="1"/>
<circle cx="539" cy="696.05" r="1.6" fill="#fff" stroke="#000000" stroke-width="1.1"/>
<circle cx="535.7" cy="706.13" r="1.6" fill="#fff" stroke="#000000" stroke-width="1.1"/>
<circle cx="542.3" cy="706.13" r="1.6" fill="#fff" stroke="#000000" stroke-width="1.1"/>
<rect x="548" y="688.26" width="9.2" height="38.04" fill="#f5474b"/>
<line x1="552.6" y1="688.26" x2="552.6" y2="670.84" stroke="#ff1a1a" stroke-width="1"/>
<line x1="550.4" y1="670.84" x2="554.8" y2="670.84" stroke="#ff1a1a" stroke-width="1"/>
<line x1="552.6" y1="688.26" x2="552.6" y2="705.22" stroke="#ff0000" stroke-width="1"/>
<line x1="550.4" y1="705.22" x2="554.8" y2="705.22" stroke="#ff0000" stroke-width="1"/>
<circle cx="552.6" cy="668.55" r="1.6" fill="#fff" stroke="#f5474b" stroke-width="1.1"/>
<circle cx="552.6" cy="695.13" r="1.6" fill="#fff" stroke="#f5474b" stroke-width="1.1"/>
<circle cx="552.6" cy="702.47" r="1.6" fill="#fff" stroke="#f5474b" stroke-width="1.1"/>
<rect x="561.9" y="705.22" width="9.2" height="21.08" fill="#0000ff"/>
<line x1="566.5" y1="705.22" x2="566.5" y2="703.84" stroke="#4a4aff" stroke-width="1"/>
<line x1="564.3" y1="703.84" x2="568.7" y2="703.84" stroke="#4a4aff" stroke-width="1"/>
<circle cx="563.2" cy="704.3" r="1.6" fill="#fff" stroke="#0000ff" stroke-width="1.1"/>
<circle cx="569.8" cy="705.22" r="1.6" fill="#fff" stroke="#0000ff" stroke-width="1.1"/>
<circle cx="566.5" cy="712.55" r="1.6" fill="#fff" stroke="#0000ff" stroke-width="1.1"/>
<rect x="575.5" y="676.8" width="9.2" height="49.5" fill="#00b900"/>
<line x1="580.1" y1="676.8" x2="580.1" y2="639.22" stroke="#66d466" stroke-width="1"/>
<line x1="577.9" y1="639.22" x2="582.3" y2="639.22" stroke="#66d466" stroke-width="1"/>
<circle cx="580.1" cy="633.72" r="1.6" fill="#fff" stroke="#00b900" stroke-width="1.1"/>
<circle cx="576.8" cy="697.88" r="1.6" fill="#fff" stroke="#00b900" stroke-width="1.1"/>
<circle cx="583.4" cy="697.88" r="1.6" fill="#fff" stroke="#00b900" stroke-width="1.1"/>
<rect x="589.1" y="701.55" width="9.2" height="24.75" fill="#ff8000"/>
<line x1="593.7" y1="701.55" x2="593.7" y2="700.63" stroke="#ff8c1a" stroke-width="1"/>
<line x1="591.5" y1="700.63" x2="595.9" y2="700.63" stroke="#ff8c1a" stroke-width="1"/>
<circle cx="590.4" cy="701.55" r="1.6" fill="#fff" stroke="#ff8000" stroke-width="1.1"/>
<circle cx="597" cy="701.55" r="1.6" fill="#fff" stroke="#ff8000" stroke-width="1.1"/>
<circle cx="593.7" cy="707.05" r="1.6" fill="#fff" stroke="#ff8000" stroke-width="1.1"/>
<line x1="530" y1="588.3" x2="530" y2="726.3" stroke="#000" stroke-width="1.3"/>
<line x1="526.1" y1="726.3" x2="603.4" y2="726.3" stroke="#000" stroke-width="1.3"/>
<line x1="526.5" y1="726.3" x2="530" y2="726.3" stroke="#000" stroke-width="1"/>
<text x="525.5" y="730.62" font-size="12" text-anchor="end" font-weight="bold" fill="#000">0</text>
<line x1="526.5" y1="680.47" x2="530" y2="680.47" stroke="#000" stroke-width="1"/>
<text x="525.5" y="684.79" font-size="12" text-anchor="end" font-weight="bold" fill="#000">5</text>
<line x1="526.5" y1="634.63" x2="530" y2="634.63" stroke="#000" stroke-width="1"/>
<text x="525.5" y="638.95" font-size="12" text-anchor="end" font-weight="bold" fill="#000">10</text>
<line x1="526.5" y1="588.8" x2="530" y2="588.8" stroke="#000" stroke-width="1"/>
<text x="525.5" y="593.12" font-size="12" text-anchor="end" font-weight="bold" fill="#000">15</text>
<line x1="528.4" y1="703.38" x2="530" y2="703.38" stroke="#000" stroke-width="1"/>
<line x1="528.4" y1="657.55" x2="530" y2="657.55" stroke="#000" stroke-width="1"/>
<line x1="528.4" y1="611.72" x2="530" y2="611.72" stroke="#000" stroke-width="1"/>
<line x1="566" y1="726.3" x2="566" y2="729.3" stroke="#000" stroke-width="1"/>
<text x="502.5" y="654" font-size="11.8" text-anchor="middle" font-weight="bold" fill="#000" transform="rotate(-90 502.5 654)">Fold Change Over Mock</text>
<text x="566.1" y="742" font-size="11.9" text-anchor="middle" font-weight="bold" fill="#000">OAS2</text>
<rect x="679" y="723.27" width="9.2" height="3.02" fill="#000000"/>
<line x1="683.6" y1="723.27" x2="683.6" y2="721.9" stroke="#777777" stroke-width="1"/>
<line x1="681.4" y1="721.9" x2="685.8" y2="721.9" stroke="#777777" stroke-width="1"/>
<circle cx="680.3" cy="720.8" r="1.6" fill="#fff" stroke="#000000" stroke-width="1.1"/>
<circle cx="683.6" cy="722.34" r="1.6" fill="#fff" stroke="#000000" stroke-width="1.1"/>
<circle cx="686.9" cy="722.56" r="1.6" fill="#fff" stroke="#000000" stroke-width="1.1"/>
<rect x="692.9" y="713.1" width="9.2" height="13.2" fill="#f5474b"/>
<line x1="697.5" y1="713.1" x2="697.5" y2="701" stroke="#ff1a1a" stroke-width="1"/>
<line x1="695.3" y1="701" x2="699.7" y2="701" stroke="#ff1a1a" stroke-width="1"/>
<circle cx="697.5" cy="701" r="1.6" fill="#fff" stroke="#f5474b" stroke-width="1.1"/>
<circle cx="697.5" cy="715.3" r="1.6" fill="#fff" stroke="#f5474b" stroke-width="1.1"/>
<circle cx="697.5" cy="723" r="1.6" fill="#fff" stroke="#f5474b" stroke-width="1.1"/>
<rect x="706.7" y="719.7" width="9.2" height="6.6" fill="#0000ff"/>
<line x1="711.3" y1="719.7" x2="711.3" y2="718.6" stroke="#4a4aff" stroke-width="1"/>
<line x1="709.1" y1="718.6" x2="713.5" y2="718.6" stroke="#4a4aff" stroke-width="1"/>
<circle cx="708" cy="718.6" r="1.6" fill="#fff" stroke="#0000ff" stroke-width="1.1"/>
<circle cx="714.6" cy="719.04" r="1.6" fill="#fff" stroke="#0000ff" stroke-width="1.1"/>
<circle cx="711.3" cy="724.65" r="1.6" fill="#fff" stroke="#0000ff" stroke-width="1.1"/>
<rect x="720.4" y="682.3" width="9.2" height="44" fill="#00b900"/>
<line x1="725" y1="682.3" x2="725" y2="614.92" stroke="#66d466" stroke-width="1"/>
<line x1="722.8" y1="614.92" x2="727.2" y2="614.92" stroke="#66d466" stroke-width="1"/>
<circle cx="725" cy="605.3" r="1.6" fill="#fff" stroke="#00b900" stroke-width="1.1"/>
<circle cx="725" cy="715.3" r="1.6" fill="#fff" stroke="#00b900" stroke-width="1.1"/>
<circle cx="725" cy="726.3" r="1.6" fill="#fff" stroke="#00b900" stroke-width="1.1"/>
<rect x="733.9" y="705.01" width="9.2" height="21.28" fill="#ff8000"/>
<line x1="738.5" y1="705.01" x2="738.5" y2="704.3" stroke="#ff8c1a" stroke-width="1"/>
<line x1="736.3" y1="704.3" x2="740.7" y2="704.3" stroke="#ff8c1a" stroke-width="1"/>
<circle cx="738.5" cy="703.09" r="1.6" fill="#fff" stroke="#ff8000" stroke-width="1.1"/>
<circle cx="738.5" cy="706.77" r="1.6" fill="#fff" stroke="#ff8000" stroke-width="1.1"/>
<line x1="674.8" y1="588.3" x2="674.8" y2="726.3" stroke="#000" stroke-width="1.3"/>
<line x1="670.1" y1="726.3" x2="748.5" y2="726.3" stroke="#000" stroke-width="1.3"/>
<line x1="671.3" y1="726.3" x2="674.8" y2="726.3" stroke="#000" stroke-width="1"/>
<text x="670.3" y="730.48" font-size="11.6" text-anchor="end" font-weight="bold" fill="#000">0</text>
<line x1="671.3" y1="671.3" x2="674.8" y2="671.3" stroke="#000" stroke-width="1"/>
<text x="670.3" y="675.48" font-size="11.6" text-anchor="end" font-weight="bold" fill="#000">100</text>
<line x1="671.3" y1="616.3" x2="674.8" y2="616.3" stroke="#000" stroke-width="1"/>
<text x="670.3" y="620.48" font-size="11.6" text-anchor="end" font-weight="bold" fill="#000">200</text>
<line x1="671.3" y1="588.8" x2="674.8" y2="588.8" stroke="#000" stroke-width="1"/>
<line x1="673.2" y1="698.8" x2="674.8" y2="698.8" stroke="#000" stroke-width="1"/>
<line x1="673.2" y1="643.8" x2="674.8" y2="643.8" stroke="#000" stroke-width="1"/>
<line x1="711.4" y1="726.3" x2="711.4" y2="729.3" stroke="#000" stroke-width="1"/>
<text x="641" y="654.3" font-size="12.1" text-anchor="middle" font-weight="bold" fill="#000" transform="rotate(-90 641 654.3)">Fold change over mock</text>
<text x="711.1" y="742" font-size="11.9" text-anchor="middle" font-weight="bold" fill="#000">IFIT1</text>
<text x="5.6" y="13.3" font-size="16" text-anchor="start" font-weight="bold" fill="#000">A</text>
<text x="3.2" y="294.6" font-size="16" text-anchor="start" font-weight="bold" fill="#000">B</text>
<text x="2.2" y="548" font-size="16" text-anchor="start" font-weight="bold" fill="#000">C</text>
<text x="64.3" y="13.3" font-size="16" text-anchor="start" font-weight="bold" fill="#000">i</text>
<text x="203.3" y="13.3" font-size="16" text-anchor="start" font-weight="bold" fill="#000">ii</text>
<text x="353.2" y="13.3" font-size="16" text-anchor="start" font-weight="bold" fill="#000">iii</text>
<text x="505.4" y="13.3" font-size="16" text-anchor="start" font-weight="bold" fill="#000">iv</text>
<text x="652.6" y="13.3" font-size="16" text-anchor="start" font-weight="bold" fill="#000">v</text>
<text x="24.6" y="156.6" font-size="16" font-weight="bold" transform="rotate(-90 24.6 156.6)">A549<tspan font-size="11.5" dy="-7.6">ACE2</tspan></text>
<text x="23" y="379.5" font-size="16" text-anchor="middle" font-weight="bold" fill="#000" transform="rotate(-90 23 379.5)">Calu3</text>
<text x="13" y="647" font-size="16" text-anchor="middle" font-weight="bold" fill="#000" transform="rotate(-90 13 647)">Primary human</text>
<text x="31.5" y="647" font-size="16" text-anchor="middle" font-weight="bold" fill="#000" transform="rotate(-90 31.5 647)">nasal epithelia</text>
</svg>
</body></html>
